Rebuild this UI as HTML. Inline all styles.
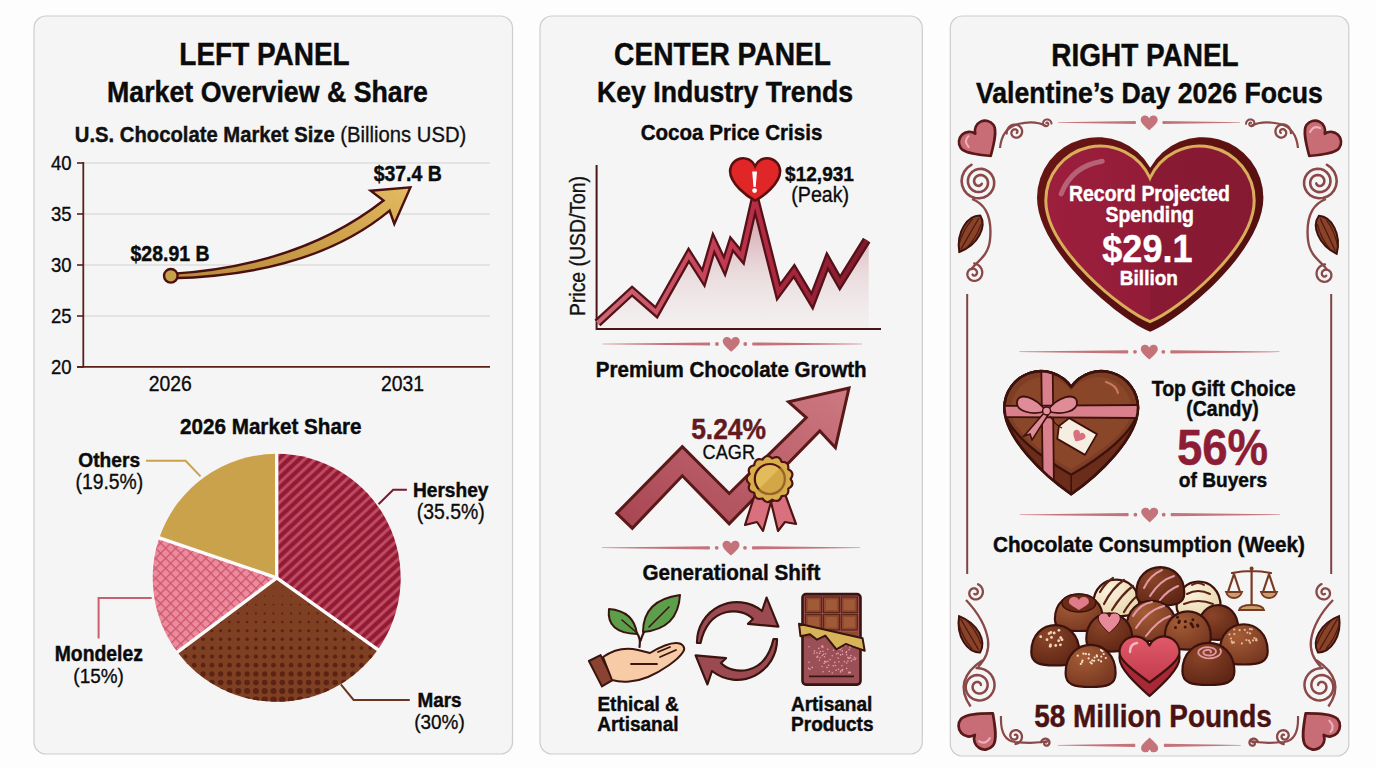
<!DOCTYPE html>
<html><head><meta charset="utf-8"><title>Chocolate Market Infographic</title>
<style>
html,body{margin:0;padding:0;background:#fdfdfd;width:1376px;height:768px;overflow:hidden;}
svg{display:block;}
text{font-family:"Liberation Sans",sans-serif;}
</style></head><body>
<svg width="1376" height="768" viewBox="0 0 1376 768">
<defs>
<pattern id="pHer" patternUnits="userSpaceOnUse" width="7.2" height="7.2" patternTransform="rotate(-43)">
 <rect width="7.2" height="7.2" fill="#911b35"/><rect width="7.2" height="2.9" y="2.2" fill="#c24c63"/></pattern>
<pattern id="pMon" patternUnits="userSpaceOnUse" width="7.1" height="7.1" patternTransform="rotate(45)">
 <rect width="7.1" height="7.1" fill="#ec8b9b"/><rect width="7.1" height="1.3" fill="#cd5670"/><rect width="1.3" height="7.1" fill="#cd5670"/></pattern>
<linearGradient id="gGold" x1="0" y1="1" x2="1" y2="0"><stop offset="0" stop-color="#b8893a"/><stop offset="0.7" stop-color="#d4a850"/><stop offset="1" stop-color="#e2bb62"/></linearGradient>
<linearGradient id="gArea" x1="0" y1="0" x2="0" y2="1"><stop offset="0" stop-color="#b25464" stop-opacity="0.62"/><stop offset="0.6" stop-color="#c88890" stop-opacity="0.22"/><stop offset="1" stop-color="#d8a0a8" stop-opacity="0.06"/></linearGradient>
<linearGradient id="gLine" gradientUnits="userSpaceOnUse" x1="597" y1="0" x2="870" y2="0"><stop offset="0" stop-color="#cc6a76"/><stop offset="0.4" stop-color="#c8435a"/><stop offset="0.6" stop-color="#b42a42"/><stop offset="1" stop-color="#7c1a2c"/></linearGradient>
<linearGradient id="gArrow" x1="0" y1="1" x2="1" y2="0"><stop offset="0" stop-color="#a84452"/><stop offset="1" stop-color="#cd7a82"/></linearGradient>
</defs>
<rect x="34" y="16" width="478.5" height="738" rx="12" fill="#f5f5f5" stroke="#cdcdcd" stroke-width="1.2"/>
<rect x="540" y="16" width="382.3" height="738" rx="12" fill="#f5f5f5" stroke="#cdcdcd" stroke-width="1.2"/>
<rect x="950.3" y="16" width="398.5" height="740" rx="12" fill="#f5f5f5" stroke="#cdcdcd" stroke-width="1.2"/>
<text transform="translate(264.5,65.30) scale(1,1.1)" font-size="27.96" font-weight="bold" text-anchor="middle" fill="#0b0b0b" stroke="#0b0b0b" stroke-width="0.4" >LEFT PANEL</text>
<text transform="translate(267.5,102.30) scale(1,1.1)" font-size="26.74" font-weight="bold" text-anchor="middle" fill="#0b0b0b" stroke="#0b0b0b" stroke-width="0.4" >Market Overview &amp; Share</text>
<text transform="translate(270.6,141.8) scale(1,1.1)" font-size="20.26" text-anchor="middle" fill="#111" stroke="#111" stroke-width="0.3"><tspan font-weight="bold" stroke-width="0.4">U.S. Chocolate Market Size</tspan> (Billions USD)</text>
<line x1="83" y1="163" x2="490" y2="163" stroke="#dcdcdc" stroke-width="1.3"/>
<line x1="77" y1="163" x2="84" y2="163" stroke="#5a2018" stroke-width="1.6"/>
<text transform="translate(71.5,169.80) scale(1,1.1)" font-size="18.54" font-weight="normal" text-anchor="end" fill="#0b0b0b" stroke="#0b0b0b" stroke-width="0.3" >40</text>
<line x1="83" y1="214" x2="490" y2="214" stroke="#dcdcdc" stroke-width="1.3"/>
<line x1="77" y1="214" x2="84" y2="214" stroke="#5a2018" stroke-width="1.6"/>
<text transform="translate(71.5,220.80) scale(1,1.1)" font-size="18.54" font-weight="normal" text-anchor="end" fill="#0b0b0b" stroke="#0b0b0b" stroke-width="0.3" >35</text>
<line x1="83" y1="265" x2="490" y2="265" stroke="#dcdcdc" stroke-width="1.3"/>
<line x1="77" y1="265" x2="84" y2="265" stroke="#5a2018" stroke-width="1.6"/>
<text transform="translate(71.5,271.80) scale(1,1.1)" font-size="18.54" font-weight="normal" text-anchor="end" fill="#0b0b0b" stroke="#0b0b0b" stroke-width="0.3" >30</text>
<line x1="83" y1="316" x2="490" y2="316" stroke="#dcdcdc" stroke-width="1.3"/>
<line x1="77" y1="316" x2="84" y2="316" stroke="#5a2018" stroke-width="1.6"/>
<text transform="translate(71.5,322.80) scale(1,1.1)" font-size="18.54" font-weight="normal" text-anchor="end" fill="#0b0b0b" stroke="#0b0b0b" stroke-width="0.3" >25</text>
<line x1="77" y1="367" x2="84" y2="367" stroke="#5a2018" stroke-width="1.6"/>
<text transform="translate(71.5,373.80) scale(1,1.1)" font-size="18.54" font-weight="normal" text-anchor="end" fill="#0b0b0b" stroke="#0b0b0b" stroke-width="0.3" >20</text>
<line x1="83.3" y1="162" x2="83.3" y2="367.5" stroke="#5a2018" stroke-width="1.8"/>
<line x1="77" y1="366.8" x2="490" y2="366.8" stroke="#5a2018" stroke-width="1.8"/>
<text transform="translate(170.3,391.30) scale(1,1.1)" font-size="19.35" font-weight="normal" text-anchor="middle" fill="#0b0b0b" stroke="#0b0b0b" stroke-width="0.3" >2026</text>
<text transform="translate(402.5,391.30) scale(1,1.1)" font-size="19.35" font-weight="normal" text-anchor="middle" fill="#0b0b0b" stroke="#0b0b0b" stroke-width="0.3" >2031</text>
<path d="M171,273.9 Q300,266 383.5,200.5 L370.7,190.8 L410.4,187.4 L394.3,223.9 L389.6,210.6 Q312,275 171,278.3 Z" fill="url(#gGold)" stroke="#4a1010" stroke-width="2.4" stroke-linejoin="miter"/>
<circle cx="170.8" cy="275.8" r="6.8" fill="#c9a04a" stroke="#4a1010" stroke-width="2.4"/>
<text transform="translate(170,261.00) scale(1,1.1)" font-size="19.45" font-weight="bold" text-anchor="middle" fill="#0b0b0b" stroke="#0b0b0b" stroke-width="0.4" >$28.91 B</text>
<text transform="translate(407.7,181.30) scale(1,1.1)" font-size="19.45" font-weight="bold" text-anchor="middle" fill="#0b0b0b" stroke="#0b0b0b" stroke-width="0.4" >$37.4 B</text>
<path d="M276.7,577.8 L276.70,453.80 A124,124 0 0 1 377.78,649.63 Z" fill="url(#pHer)"/>
<path d="M276.7,577.8 L377.78,649.63 A124,124 0 0 1 177.41,652.08 Z" fill="#7e3f22"/>
<clipPath id="cMars"><path d="M276.7,577.8 L377.78,649.63 A124,124 0 0 1 177.41,652.08 Z"/></clipPath>
<g clip-path="url(#cMars)" fill="#5a2314"><circle cx="185.5" cy="570.2" r="0.50"/><circle cx="194.3" cy="570.2" r="0.50"/><circle cx="203.1" cy="570.2" r="0.50"/><circle cx="211.9" cy="570.2" r="0.50"/><circle cx="220.7" cy="570.2" r="0.50"/><circle cx="229.5" cy="570.2" r="0.50"/><circle cx="238.3" cy="570.2" r="0.50"/><circle cx="247.1" cy="570.2" r="0.50"/><circle cx="255.9" cy="570.2" r="0.50"/><circle cx="264.7" cy="570.2" r="0.50"/><circle cx="273.5" cy="570.2" r="0.50"/><circle cx="282.3" cy="570.2" r="0.50"/><circle cx="291.1" cy="570.2" r="0.50"/><circle cx="299.9" cy="570.2" r="0.50"/><circle cx="308.7" cy="570.2" r="0.50"/><circle cx="317.5" cy="570.2" r="0.50"/><circle cx="326.3" cy="570.2" r="0.50"/><circle cx="335.1" cy="570.2" r="0.50"/><circle cx="343.9" cy="570.2" r="0.50"/><circle cx="352.7" cy="570.2" r="0.50"/><circle cx="361.5" cy="570.2" r="0.50"/><circle cx="370.3" cy="570.2" r="0.50"/><circle cx="379.1" cy="570.2" r="0.50"/><circle cx="185.5" cy="578.8" r="0.50"/><circle cx="194.3" cy="578.8" r="0.50"/><circle cx="203.1" cy="578.8" r="0.50"/><circle cx="211.9" cy="578.8" r="0.50"/><circle cx="220.7" cy="578.8" r="0.50"/><circle cx="229.5" cy="578.8" r="0.50"/><circle cx="238.3" cy="578.8" r="0.50"/><circle cx="247.1" cy="578.8" r="0.50"/><circle cx="255.9" cy="578.8" r="0.50"/><circle cx="264.7" cy="578.8" r="0.50"/><circle cx="273.5" cy="578.8" r="0.50"/><circle cx="282.3" cy="578.8" r="0.50"/><circle cx="291.1" cy="578.8" r="0.50"/><circle cx="299.9" cy="578.8" r="0.50"/><circle cx="308.7" cy="578.8" r="0.50"/><circle cx="317.5" cy="578.8" r="0.50"/><circle cx="326.3" cy="578.8" r="0.50"/><circle cx="335.1" cy="578.8" r="0.50"/><circle cx="343.9" cy="578.8" r="0.50"/><circle cx="352.7" cy="578.8" r="0.50"/><circle cx="361.5" cy="578.8" r="0.50"/><circle cx="370.3" cy="578.8" r="0.50"/><circle cx="379.1" cy="578.8" r="0.50"/><circle cx="185.5" cy="587.5" r="0.50"/><circle cx="194.3" cy="587.5" r="0.50"/><circle cx="203.1" cy="587.5" r="0.50"/><circle cx="211.9" cy="587.5" r="0.50"/><circle cx="220.7" cy="587.5" r="0.50"/><circle cx="229.5" cy="587.5" r="0.50"/><circle cx="238.3" cy="587.5" r="0.50"/><circle cx="247.1" cy="587.5" r="0.50"/><circle cx="255.9" cy="587.5" r="0.50"/><circle cx="264.7" cy="587.5" r="0.50"/><circle cx="273.5" cy="587.5" r="0.50"/><circle cx="282.3" cy="587.5" r="0.50"/><circle cx="291.1" cy="587.5" r="0.50"/><circle cx="299.9" cy="587.5" r="0.50"/><circle cx="308.7" cy="587.5" r="0.50"/><circle cx="317.5" cy="587.5" r="0.50"/><circle cx="326.3" cy="587.5" r="0.50"/><circle cx="335.1" cy="587.5" r="0.50"/><circle cx="343.9" cy="587.5" r="0.50"/><circle cx="352.7" cy="587.5" r="0.50"/><circle cx="361.5" cy="587.5" r="0.50"/><circle cx="370.3" cy="587.5" r="0.50"/><circle cx="379.1" cy="587.5" r="0.50"/><circle cx="185.5" cy="596.1" r="0.65"/><circle cx="194.3" cy="596.1" r="0.65"/><circle cx="203.1" cy="596.1" r="0.65"/><circle cx="211.9" cy="596.1" r="0.65"/><circle cx="220.7" cy="596.1" r="0.65"/><circle cx="229.5" cy="596.1" r="0.65"/><circle cx="238.3" cy="596.1" r="0.65"/><circle cx="247.1" cy="596.1" r="0.65"/><circle cx="255.9" cy="596.1" r="0.65"/><circle cx="264.7" cy="596.1" r="0.65"/><circle cx="273.5" cy="596.1" r="0.65"/><circle cx="282.3" cy="596.1" r="0.65"/><circle cx="291.1" cy="596.1" r="0.65"/><circle cx="299.9" cy="596.1" r="0.65"/><circle cx="308.7" cy="596.1" r="0.65"/><circle cx="317.5" cy="596.1" r="0.65"/><circle cx="326.3" cy="596.1" r="0.65"/><circle cx="335.1" cy="596.1" r="0.65"/><circle cx="343.9" cy="596.1" r="0.65"/><circle cx="352.7" cy="596.1" r="0.65"/><circle cx="361.5" cy="596.1" r="0.65"/><circle cx="370.3" cy="596.1" r="0.65"/><circle cx="379.1" cy="596.1" r="0.65"/><circle cx="185.5" cy="604.7" r="0.86"/><circle cx="194.3" cy="604.7" r="0.86"/><circle cx="203.1" cy="604.7" r="0.86"/><circle cx="211.9" cy="604.7" r="0.86"/><circle cx="220.7" cy="604.7" r="0.86"/><circle cx="229.5" cy="604.7" r="0.86"/><circle cx="238.3" cy="604.7" r="0.86"/><circle cx="247.1" cy="604.7" r="0.86"/><circle cx="255.9" cy="604.7" r="0.86"/><circle cx="264.7" cy="604.7" r="0.86"/><circle cx="273.5" cy="604.7" r="0.86"/><circle cx="282.3" cy="604.7" r="0.86"/><circle cx="291.1" cy="604.7" r="0.86"/><circle cx="299.9" cy="604.7" r="0.86"/><circle cx="308.7" cy="604.7" r="0.86"/><circle cx="317.5" cy="604.7" r="0.86"/><circle cx="326.3" cy="604.7" r="0.86"/><circle cx="335.1" cy="604.7" r="0.86"/><circle cx="343.9" cy="604.7" r="0.86"/><circle cx="352.7" cy="604.7" r="0.86"/><circle cx="361.5" cy="604.7" r="0.86"/><circle cx="370.3" cy="604.7" r="0.86"/><circle cx="379.1" cy="604.7" r="0.86"/><circle cx="185.5" cy="613.4" r="1.07"/><circle cx="194.3" cy="613.4" r="1.07"/><circle cx="203.1" cy="613.4" r="1.07"/><circle cx="211.9" cy="613.4" r="1.07"/><circle cx="220.7" cy="613.4" r="1.07"/><circle cx="229.5" cy="613.4" r="1.07"/><circle cx="238.3" cy="613.4" r="1.07"/><circle cx="247.1" cy="613.4" r="1.07"/><circle cx="255.9" cy="613.4" r="1.07"/><circle cx="264.7" cy="613.4" r="1.07"/><circle cx="273.5" cy="613.4" r="1.07"/><circle cx="282.3" cy="613.4" r="1.07"/><circle cx="291.1" cy="613.4" r="1.07"/><circle cx="299.9" cy="613.4" r="1.07"/><circle cx="308.7" cy="613.4" r="1.07"/><circle cx="317.5" cy="613.4" r="1.07"/><circle cx="326.3" cy="613.4" r="1.07"/><circle cx="335.1" cy="613.4" r="1.07"/><circle cx="343.9" cy="613.4" r="1.07"/><circle cx="352.7" cy="613.4" r="1.07"/><circle cx="361.5" cy="613.4" r="1.07"/><circle cx="370.3" cy="613.4" r="1.07"/><circle cx="379.1" cy="613.4" r="1.07"/><circle cx="185.5" cy="622.0" r="1.29"/><circle cx="194.3" cy="622.0" r="1.29"/><circle cx="203.1" cy="622.0" r="1.29"/><circle cx="211.9" cy="622.0" r="1.29"/><circle cx="220.7" cy="622.0" r="1.29"/><circle cx="229.5" cy="622.0" r="1.29"/><circle cx="238.3" cy="622.0" r="1.29"/><circle cx="247.1" cy="622.0" r="1.29"/><circle cx="255.9" cy="622.0" r="1.29"/><circle cx="264.7" cy="622.0" r="1.29"/><circle cx="273.5" cy="622.0" r="1.29"/><circle cx="282.3" cy="622.0" r="1.29"/><circle cx="291.1" cy="622.0" r="1.29"/><circle cx="299.9" cy="622.0" r="1.29"/><circle cx="308.7" cy="622.0" r="1.29"/><circle cx="317.5" cy="622.0" r="1.29"/><circle cx="326.3" cy="622.0" r="1.29"/><circle cx="335.1" cy="622.0" r="1.29"/><circle cx="343.9" cy="622.0" r="1.29"/><circle cx="352.7" cy="622.0" r="1.29"/><circle cx="361.5" cy="622.0" r="1.29"/><circle cx="370.3" cy="622.0" r="1.29"/><circle cx="379.1" cy="622.0" r="1.29"/><circle cx="185.5" cy="630.7" r="1.50"/><circle cx="194.3" cy="630.7" r="1.50"/><circle cx="203.1" cy="630.7" r="1.50"/><circle cx="211.9" cy="630.7" r="1.50"/><circle cx="220.7" cy="630.7" r="1.50"/><circle cx="229.5" cy="630.7" r="1.50"/><circle cx="238.3" cy="630.7" r="1.50"/><circle cx="247.1" cy="630.7" r="1.50"/><circle cx="255.9" cy="630.7" r="1.50"/><circle cx="264.7" cy="630.7" r="1.50"/><circle cx="273.5" cy="630.7" r="1.50"/><circle cx="282.3" cy="630.7" r="1.50"/><circle cx="291.1" cy="630.7" r="1.50"/><circle cx="299.9" cy="630.7" r="1.50"/><circle cx="308.7" cy="630.7" r="1.50"/><circle cx="317.5" cy="630.7" r="1.50"/><circle cx="326.3" cy="630.7" r="1.50"/><circle cx="335.1" cy="630.7" r="1.50"/><circle cx="343.9" cy="630.7" r="1.50"/><circle cx="352.7" cy="630.7" r="1.50"/><circle cx="361.5" cy="630.7" r="1.50"/><circle cx="370.3" cy="630.7" r="1.50"/><circle cx="379.1" cy="630.7" r="1.50"/><circle cx="185.5" cy="639.3" r="1.71"/><circle cx="194.3" cy="639.3" r="1.71"/><circle cx="203.1" cy="639.3" r="1.71"/><circle cx="211.9" cy="639.3" r="1.71"/><circle cx="220.7" cy="639.3" r="1.71"/><circle cx="229.5" cy="639.3" r="1.71"/><circle cx="238.3" cy="639.3" r="1.71"/><circle cx="247.1" cy="639.3" r="1.71"/><circle cx="255.9" cy="639.3" r="1.71"/><circle cx="264.7" cy="639.3" r="1.71"/><circle cx="273.5" cy="639.3" r="1.71"/><circle cx="282.3" cy="639.3" r="1.71"/><circle cx="291.1" cy="639.3" r="1.71"/><circle cx="299.9" cy="639.3" r="1.71"/><circle cx="308.7" cy="639.3" r="1.71"/><circle cx="317.5" cy="639.3" r="1.71"/><circle cx="326.3" cy="639.3" r="1.71"/><circle cx="335.1" cy="639.3" r="1.71"/><circle cx="343.9" cy="639.3" r="1.71"/><circle cx="352.7" cy="639.3" r="1.71"/><circle cx="361.5" cy="639.3" r="1.71"/><circle cx="370.3" cy="639.3" r="1.71"/><circle cx="379.1" cy="639.3" r="1.71"/><circle cx="185.5" cy="647.9" r="1.92"/><circle cx="194.3" cy="647.9" r="1.92"/><circle cx="203.1" cy="647.9" r="1.92"/><circle cx="211.9" cy="647.9" r="1.92"/><circle cx="220.7" cy="647.9" r="1.92"/><circle cx="229.5" cy="647.9" r="1.92"/><circle cx="238.3" cy="647.9" r="1.92"/><circle cx="247.1" cy="647.9" r="1.92"/><circle cx="255.9" cy="647.9" r="1.92"/><circle cx="264.7" cy="647.9" r="1.92"/><circle cx="273.5" cy="647.9" r="1.92"/><circle cx="282.3" cy="647.9" r="1.92"/><circle cx="291.1" cy="647.9" r="1.92"/><circle cx="299.9" cy="647.9" r="1.92"/><circle cx="308.7" cy="647.9" r="1.92"/><circle cx="317.5" cy="647.9" r="1.92"/><circle cx="326.3" cy="647.9" r="1.92"/><circle cx="335.1" cy="647.9" r="1.92"/><circle cx="343.9" cy="647.9" r="1.92"/><circle cx="352.7" cy="647.9" r="1.92"/><circle cx="361.5" cy="647.9" r="1.92"/><circle cx="370.3" cy="647.9" r="1.92"/><circle cx="379.1" cy="647.9" r="1.92"/><circle cx="185.5" cy="656.6" r="2.13"/><circle cx="194.3" cy="656.6" r="2.13"/><circle cx="203.1" cy="656.6" r="2.13"/><circle cx="211.9" cy="656.6" r="2.13"/><circle cx="220.7" cy="656.6" r="2.13"/><circle cx="229.5" cy="656.6" r="2.13"/><circle cx="238.3" cy="656.6" r="2.13"/><circle cx="247.1" cy="656.6" r="2.13"/><circle cx="255.9" cy="656.6" r="2.13"/><circle cx="264.7" cy="656.6" r="2.13"/><circle cx="273.5" cy="656.6" r="2.13"/><circle cx="282.3" cy="656.6" r="2.13"/><circle cx="291.1" cy="656.6" r="2.13"/><circle cx="299.9" cy="656.6" r="2.13"/><circle cx="308.7" cy="656.6" r="2.13"/><circle cx="317.5" cy="656.6" r="2.13"/><circle cx="326.3" cy="656.6" r="2.13"/><circle cx="335.1" cy="656.6" r="2.13"/><circle cx="343.9" cy="656.6" r="2.13"/><circle cx="352.7" cy="656.6" r="2.13"/><circle cx="361.5" cy="656.6" r="2.13"/><circle cx="370.3" cy="656.6" r="2.13"/><circle cx="379.1" cy="656.6" r="2.13"/><circle cx="185.5" cy="665.2" r="2.35"/><circle cx="194.3" cy="665.2" r="2.35"/><circle cx="203.1" cy="665.2" r="2.35"/><circle cx="211.9" cy="665.2" r="2.35"/><circle cx="220.7" cy="665.2" r="2.35"/><circle cx="229.5" cy="665.2" r="2.35"/><circle cx="238.3" cy="665.2" r="2.35"/><circle cx="247.1" cy="665.2" r="2.35"/><circle cx="255.9" cy="665.2" r="2.35"/><circle cx="264.7" cy="665.2" r="2.35"/><circle cx="273.5" cy="665.2" r="2.35"/><circle cx="282.3" cy="665.2" r="2.35"/><circle cx="291.1" cy="665.2" r="2.35"/><circle cx="299.9" cy="665.2" r="2.35"/><circle cx="308.7" cy="665.2" r="2.35"/><circle cx="317.5" cy="665.2" r="2.35"/><circle cx="326.3" cy="665.2" r="2.35"/><circle cx="335.1" cy="665.2" r="2.35"/><circle cx="343.9" cy="665.2" r="2.35"/><circle cx="352.7" cy="665.2" r="2.35"/><circle cx="361.5" cy="665.2" r="2.35"/><circle cx="370.3" cy="665.2" r="2.35"/><circle cx="379.1" cy="665.2" r="2.35"/><circle cx="185.5" cy="673.9" r="2.56"/><circle cx="194.3" cy="673.9" r="2.56"/><circle cx="203.1" cy="673.9" r="2.56"/><circle cx="211.9" cy="673.9" r="2.56"/><circle cx="220.7" cy="673.9" r="2.56"/><circle cx="229.5" cy="673.9" r="2.56"/><circle cx="238.3" cy="673.9" r="2.56"/><circle cx="247.1" cy="673.9" r="2.56"/><circle cx="255.9" cy="673.9" r="2.56"/><circle cx="264.7" cy="673.9" r="2.56"/><circle cx="273.5" cy="673.9" r="2.56"/><circle cx="282.3" cy="673.9" r="2.56"/><circle cx="291.1" cy="673.9" r="2.56"/><circle cx="299.9" cy="673.9" r="2.56"/><circle cx="308.7" cy="673.9" r="2.56"/><circle cx="317.5" cy="673.9" r="2.56"/><circle cx="326.3" cy="673.9" r="2.56"/><circle cx="335.1" cy="673.9" r="2.56"/><circle cx="343.9" cy="673.9" r="2.56"/><circle cx="352.7" cy="673.9" r="2.56"/><circle cx="361.5" cy="673.9" r="2.56"/><circle cx="370.3" cy="673.9" r="2.56"/><circle cx="379.1" cy="673.9" r="2.56"/><circle cx="185.5" cy="682.5" r="2.77"/><circle cx="194.3" cy="682.5" r="2.77"/><circle cx="203.1" cy="682.5" r="2.77"/><circle cx="211.9" cy="682.5" r="2.77"/><circle cx="220.7" cy="682.5" r="2.77"/><circle cx="229.5" cy="682.5" r="2.77"/><circle cx="238.3" cy="682.5" r="2.77"/><circle cx="247.1" cy="682.5" r="2.77"/><circle cx="255.9" cy="682.5" r="2.77"/><circle cx="264.7" cy="682.5" r="2.77"/><circle cx="273.5" cy="682.5" r="2.77"/><circle cx="282.3" cy="682.5" r="2.77"/><circle cx="291.1" cy="682.5" r="2.77"/><circle cx="299.9" cy="682.5" r="2.77"/><circle cx="308.7" cy="682.5" r="2.77"/><circle cx="317.5" cy="682.5" r="2.77"/><circle cx="326.3" cy="682.5" r="2.77"/><circle cx="335.1" cy="682.5" r="2.77"/><circle cx="343.9" cy="682.5" r="2.77"/><circle cx="352.7" cy="682.5" r="2.77"/><circle cx="361.5" cy="682.5" r="2.77"/><circle cx="370.3" cy="682.5" r="2.77"/><circle cx="379.1" cy="682.5" r="2.77"/><circle cx="185.5" cy="691.1" r="2.98"/><circle cx="194.3" cy="691.1" r="2.98"/><circle cx="203.1" cy="691.1" r="2.98"/><circle cx="211.9" cy="691.1" r="2.98"/><circle cx="220.7" cy="691.1" r="2.98"/><circle cx="229.5" cy="691.1" r="2.98"/><circle cx="238.3" cy="691.1" r="2.98"/><circle cx="247.1" cy="691.1" r="2.98"/><circle cx="255.9" cy="691.1" r="2.98"/><circle cx="264.7" cy="691.1" r="2.98"/><circle cx="273.5" cy="691.1" r="2.98"/><circle cx="282.3" cy="691.1" r="2.98"/><circle cx="291.1" cy="691.1" r="2.98"/><circle cx="299.9" cy="691.1" r="2.98"/><circle cx="308.7" cy="691.1" r="2.98"/><circle cx="317.5" cy="691.1" r="2.98"/><circle cx="326.3" cy="691.1" r="2.98"/><circle cx="335.1" cy="691.1" r="2.98"/><circle cx="343.9" cy="691.1" r="2.98"/><circle cx="352.7" cy="691.1" r="2.98"/><circle cx="361.5" cy="691.1" r="2.98"/><circle cx="370.3" cy="691.1" r="2.98"/><circle cx="379.1" cy="691.1" r="2.98"/><circle cx="185.5" cy="699.8" r="3.19"/><circle cx="194.3" cy="699.8" r="3.19"/><circle cx="203.1" cy="699.8" r="3.19"/><circle cx="211.9" cy="699.8" r="3.19"/><circle cx="220.7" cy="699.8" r="3.19"/><circle cx="229.5" cy="699.8" r="3.19"/><circle cx="238.3" cy="699.8" r="3.19"/><circle cx="247.1" cy="699.8" r="3.19"/><circle cx="255.9" cy="699.8" r="3.19"/><circle cx="264.7" cy="699.8" r="3.19"/><circle cx="273.5" cy="699.8" r="3.19"/><circle cx="282.3" cy="699.8" r="3.19"/><circle cx="291.1" cy="699.8" r="3.19"/><circle cx="299.9" cy="699.8" r="3.19"/><circle cx="308.7" cy="699.8" r="3.19"/><circle cx="317.5" cy="699.8" r="3.19"/><circle cx="326.3" cy="699.8" r="3.19"/><circle cx="335.1" cy="699.8" r="3.19"/><circle cx="343.9" cy="699.8" r="3.19"/><circle cx="352.7" cy="699.8" r="3.19"/><circle cx="361.5" cy="699.8" r="3.19"/><circle cx="370.3" cy="699.8" r="3.19"/><circle cx="379.1" cy="699.8" r="3.19"/></g>
<path d="M276.7,577.8 L177.41,652.08 A124,124 0 0 1 159.32,537.84 Z" fill="url(#pMon)"/>
<path d="M276.7,577.8 L159.32,537.84 A124,124 0 0 1 276.70,453.80 Z" fill="#c9a24b"/>
<line x1="276.7" y1="577.8" x2="276.70" y2="453.80" stroke="#fafafa" stroke-width="3.4" stroke-linecap="round"/>
<line x1="276.7" y1="577.8" x2="377.78" y2="649.63" stroke="#fafafa" stroke-width="3.4" stroke-linecap="round"/>
<line x1="276.7" y1="577.8" x2="177.41" y2="652.08" stroke="#fafafa" stroke-width="3.4" stroke-linecap="round"/>
<line x1="276.7" y1="577.8" x2="159.32" y2="537.84" stroke="#fafafa" stroke-width="3.4" stroke-linecap="round"/>
<text transform="translate(270.7,434.30) scale(1,1.1)" font-size="20.67" font-weight="bold" text-anchor="middle" fill="#0b0b0b" stroke="#0b0b0b" stroke-width="0.4" >2026 Market Share</text>
<polyline points="146,460.7 185.6,460.7 200.5,476.4" fill="none" stroke="#c9a24b" stroke-width="2"/>
<polyline points="406.9,489.7 393.2,489.7 378.5,504.2" fill="none" stroke="#7a1a2a" stroke-width="2"/>
<polyline points="98.6,638.6 98.6,598 151.7,598" fill="none" stroke="#c9606e" stroke-width="2"/>
<polyline points="340.8,684.3 353.6,700 409.8,700" fill="none" stroke="#6b3520" stroke-width="2"/>
<text transform="translate(109.2,466.60) scale(1,1.1)" font-size="19.15" font-weight="bold" text-anchor="middle" fill="#0b0b0b" stroke="#0b0b0b" stroke-width="0.4" >Others</text>
<text transform="translate(109.4,489.30) scale(1,1.1)" font-size="19.35" font-weight="normal" text-anchor="middle" fill="#0b0b0b" stroke="#0b0b0b" stroke-width="0.3" >(19.5%)</text>
<text transform="translate(450.7,496.80) scale(1,1.1)" font-size="19.15" font-weight="bold" text-anchor="middle" fill="#0b0b0b" stroke="#0b0b0b" stroke-width="0.4" >Hershey</text>
<text transform="translate(450.7,519.30) scale(1,1.1)" font-size="19.45" font-weight="normal" text-anchor="middle" fill="#0b0b0b" stroke="#0b0b0b" stroke-width="0.3" >(35.5%)</text>
<text transform="translate(98.8,661.30) scale(1,1.1)" font-size="19.35" font-weight="bold" text-anchor="middle" fill="#0b0b0b" stroke="#0b0b0b" stroke-width="0.4" >Mondelez</text>
<text transform="translate(98.6,683.30) scale(1,1.1)" font-size="18.94" font-weight="normal" text-anchor="middle" fill="#0b0b0b" stroke="#0b0b0b" stroke-width="0.3" >(15%)</text>
<text transform="translate(439.5,706.70) scale(1,1.1)" font-size="18.94" font-weight="bold" text-anchor="middle" fill="#0b0b0b" stroke="#0b0b0b" stroke-width="0.4" >Mars</text>
<text transform="translate(439.5,728.80) scale(1,1.1)" font-size="18.94" font-weight="normal" text-anchor="middle" fill="#0b0b0b" stroke="#0b0b0b" stroke-width="0.3" >(30%)</text>
<text transform="translate(722.5,65.30) scale(1,1.1)" font-size="28.16" font-weight="bold" text-anchor="middle" fill="#0b0b0b" stroke="#0b0b0b" stroke-width="0.4" >CENTER PANEL</text>
<text transform="translate(725,102.30) scale(1,1.1)" font-size="26.64" font-weight="bold" text-anchor="middle" fill="#0b0b0b" stroke="#0b0b0b" stroke-width="0.4" >Key Industry Trends</text>
<text transform="translate(731.5,140.30) scale(1,1.1)" font-size="20.56" font-weight="bold" text-anchor="middle" fill="#0b0b0b" stroke="#0b0b0b" stroke-width="0.4" >Cocoa Price Crisis</text>
<polygon points="597.5,323 632.1,291.1 656.3,312.3 688.7,255 703.4,278 713.6,243 724.5,266 731.6,244 742,256.5 755,199 778.5,292 794.1,271 812.1,301 827.4,261 839.9,283 866.7,240.2 868.7,242 868.7,328.5 597.5,328.5" fill="url(#gArea)"/>
<line x1="596.6" y1="165" x2="596.6" y2="330" stroke="#4a1515" stroke-width="2"/>
<line x1="596" y1="329" x2="881" y2="329" stroke="#4a1515" stroke-width="2"/>
<polyline points="597.5,323 632.1,291.1 656.3,312.3 688.7,255 703.4,278 713.6,243 724.5,266 731.6,244 742,256.5 755,199 778.5,292 794.1,271 812.1,301 827.4,261 839.9,283 866.7,240.2" fill="none" stroke="#541218" stroke-width="8.8" stroke-linejoin="miter" stroke-miterlimit="5"/>
<polyline points="597.5,323 632.1,291.1 656.3,312.3 688.7,255 703.4,278 713.6,243 724.5,266 731.6,244 742,256.5 755,199 778.5,292 794.1,271 812.1,301 827.4,261 839.9,283 866.7,240.2" fill="none" stroke="url(#gLine)" stroke-width="4.2" stroke-linejoin="miter" stroke-miterlimit="5"/>
<path d="M755.10,166.00 A13.05,13.05 0 0 0 730.10,171.25 C730.10,183.58 747.10,196.36 755.10,200.60 C763.10,196.36 780.10,183.58 780.10,171.25 A13.05,13.05 0 0 0 755.10,166.00 Z" fill="#e02626" stroke="#5a1010" stroke-width="2.6"/>
<path d="M752.2,171.5 L757,171.5 L755.7,187 L753.5,187 Z" fill="#fff"/><circle cx="754.6" cy="190.6" r="2.4" fill="#fff"/>
<text transform="translate(819.5,181.30) scale(1,1.1)" font-size="19.04" font-weight="bold" text-anchor="middle" fill="#0b0b0b" stroke="#0b0b0b" stroke-width="0.4" >$12,931</text>
<text transform="translate(820.2,202.30) scale(1,1.1)" font-size="19.65" font-weight="normal" text-anchor="middle" fill="#0b0b0b" stroke="#0b0b0b" stroke-width="0.3" >(Peak)</text>
<text transform="translate(585,246) rotate(-90) scale(1,1.1)" font-size="19.4" text-anchor="middle" fill="#111" stroke="#111" stroke-width="0.3">Price (USD/Ton)</text>
<path d="M602.6,343.7 L709.75,342.4 Q710.95,344 709.75,345.6 L602.6,344.3 Z" fill="#c4737a"/>
<path d="M862,343.7 L752.75,342.4 Q751.55,344 752.75,345.6 L862,344.3 Z" fill="#c4737a"/>
<circle cx="716.95" cy="344" r="1.9" fill="#c4737a"/><circle cx="745.25" cy="344" r="1.9" fill="#c4737a"/>
<path d="M731.25,339.80 A4.40,4.40 0 0 0 722.75,341.40 C722.75,344.52 728.19,348.84 731.25,351.80 C734.31,348.84 739.75,344.52 739.75,341.40 A4.40,4.40 0 0 0 731.25,339.80 Z" fill="#c4737a"/>
<text transform="translate(731.2,376.90) scale(1,1.1)" font-size="20.56" font-weight="bold" text-anchor="middle" fill="#0b0b0b" stroke="#0b0b0b" stroke-width="0.4" >Premium Chocolate Growth</text>
<path d="M616.7,513.3 L682.3,446.7 L729.2,493.5 L806.3,417.5 L788.5,401.9 L849,388 L835.4,447.7 L819.8,431 L729.2,523.8 L682.3,475.8 L632.3,528.3 Z" fill="url(#gArrow)" stroke="#5a1818" stroke-width="3" stroke-linejoin="miter"/>
<text transform="translate(728.6,438.60) scale(1,1.1)" font-size="26.44" font-weight="bold" text-anchor="middle" fill="#621a1e" stroke="#621a1e" stroke-width="0.4" >5.24%</text>
<text transform="translate(728.8,459.10) scale(1,1.1)" font-size="18.13" font-weight="normal" text-anchor="middle" fill="#0b0b0b" stroke="#0b0b0b" stroke-width="0.3" >CAGR</text>
<path d="M755,494 L771,502 L763,531 L757,522 L745,525 Z" fill="#d9707e" stroke="#4e1414" stroke-width="2.2" stroke-linejoin="round"/>
<path d="M771,502 L785,494 L796,524 L785,522 L778,531 Z" fill="#d9707e" stroke="#4e1414" stroke-width="2.2" stroke-linejoin="round"/>
<path d="M790.60,479.00 Q795.24,485.27 788.22,488.67 Q789.41,496.37 781.62,496.12 Q779.09,503.50 772.31,499.65 Q766.64,505.01 762.42,498.45 Q754.92,500.56 754.23,492.79 Q746.60,491.18 749.60,483.98 Q743.60,479.00 749.60,474.02 Q746.60,466.82 754.23,465.21 Q754.92,457.44 762.42,459.55 Q766.64,452.99 772.31,458.35 Q779.09,454.50 781.62,461.88 Q789.41,461.63 788.22,469.33 Q795.24,472.73 790.60,479.00 Z" fill="#d8ae4a" stroke="#4e1414" stroke-width="2.2" stroke-linejoin="round"/>
<circle cx="769.8" cy="479" r="15" fill="#e2bb5a" stroke="#4e1414" stroke-width="2.2"/>
<path d="M758,490 L781,467 A15.5,15.5 0 0 1 781,491 A15.5,15.5 0 0 1 758,490 Z" fill="#c99a38" opacity="0.6"/>
<path d="M601.9,547.5 L709.5,546.1999999999999 Q710.7,547.8 709.5,549.4 L601.9,548.0999999999999 Z" fill="#c4737a"/>
<path d="M860,547.5 L752.5,546.1999999999999 Q751.3,547.8 752.5,549.4 L860,548.0999999999999 Z" fill="#c4737a"/>
<circle cx="716.7" cy="547.8" r="1.9" fill="#c4737a"/><circle cx="745" cy="547.8" r="1.9" fill="#c4737a"/>
<path d="M731.00,543.60 A4.40,4.40 0 0 0 722.50,545.20 C722.50,548.32 727.94,552.64 731.00,555.60 C734.06,552.64 739.50,548.32 739.50,545.20 A4.40,4.40 0 0 0 731.00,543.60 Z" fill="#c4737a"/>
<text transform="translate(731.4,580.30) scale(1,1.1)" font-size="20.67" font-weight="bold" text-anchor="middle" fill="#0b0b0b" stroke="#0b0b0b" stroke-width="0.4" >Generational Shift</text>
<polygon points="588.9,661 600.6,655.1 613,679.8 601.9,686.4" fill="#8a4232" stroke="#3a1510" stroke-width="2" stroke-linejoin="round"/>
<path d="M603,657 C613,650 626,647 638,650 L650,653 C660,647 668,643 676,643 C683,643 686,648 683,652 C678,660 662,671 648,677 C636,682 622,683 612,680 Z" fill="#f6cba6" stroke="#3a1510" stroke-width="2" stroke-linejoin="round"/>
<path d="M631,664 L657,664 M658,652 L670,647 M660,657 L676,650" fill="none" stroke="#3a1510" stroke-width="1.8" stroke-linecap="round"/>
<path d="M639.5,647 Q641,639 637,633 M640.5,641 Q642,636 644,632" fill="none" stroke="#3a1510" stroke-width="2.2" stroke-linecap="round"/>
<path d="M637,634 Q606,633 609,609 Q634,611 637,634 Z" fill="#5d9e4b" stroke="#3a1510" stroke-width="2" stroke-linejoin="round"/>
<path d="M643,632 Q643,600 680,595 Q678,629 643,632 Z" fill="#5d9e4b" stroke="#3a1510" stroke-width="2" stroke-linejoin="round"/>
<path d="M622,620 L636,632 M649,627 L669,607" fill="none" stroke="#3a1510" stroke-width="1.6" stroke-linecap="round"/>
<path d="M697,643 A40,40 0 0 1 762,611 L766.6,597.6 L778.4,626.6 L748,623.8 L753,619 C742,607 709,605 700.5,643 Z" fill="#9c4a52" stroke="#3a1510" stroke-width="2.2" stroke-linejoin="round"/>
<path d="M697,643 A40,40 0 0 1 762,611 L766.6,597.6 L778.4,626.6 L748,623.8 L753,619 C742,607 709,605 700.5,643 Z" fill="#9c4a52" stroke="#3a1510" stroke-width="2.2" stroke-linejoin="round" transform="rotate(180 737 641)"/>
<rect x="802.5" y="594.1" width="58" height="90.5" rx="3.5" fill="#9b5058" stroke="#3a1510" stroke-width="2.6"/>
<rect x="805.5" y="597.0" width="16" height="15.5" fill="#8d4a2e" stroke="#5a2416" stroke-width="1.2"/>
<rect x="808.0" y="599.5" width="11" height="10.5" fill="#a05a38"/>
<rect x="823.4" y="597.0" width="16" height="15.5" fill="#8d4a2e" stroke="#5a2416" stroke-width="1.2"/>
<rect x="825.9" y="599.5" width="11" height="10.5" fill="#a05a38"/>
<rect x="841.3" y="597.0" width="16" height="15.5" fill="#8d4a2e" stroke="#5a2416" stroke-width="1.2"/>
<rect x="843.8" y="599.5" width="11" height="10.5" fill="#a05a38"/>
<rect x="805.5" y="614.5" width="16" height="15.5" fill="#8d4a2e" stroke="#5a2416" stroke-width="1.2"/>
<rect x="808.0" y="617.0" width="11" height="10.5" fill="#a05a38"/>
<rect x="823.4" y="614.5" width="16" height="15.5" fill="#8d4a2e" stroke="#5a2416" stroke-width="1.2"/>
<rect x="825.9" y="617.0" width="11" height="10.5" fill="#a05a38"/>
<rect x="841.3" y="614.5" width="16" height="15.5" fill="#8d4a2e" stroke="#5a2416" stroke-width="1.2"/>
<rect x="843.8" y="617.0" width="11" height="10.5" fill="#a05a38"/>
<rect x="805" y="632" width="53" height="6" fill="#8d4a2e"/>
<g fill="#e6a0a8"><circle cx="819.4" cy="660.2" r="0.8"/><circle cx="825.8" cy="661.9" r="0.8"/><circle cx="838.0" cy="646.8" r="0.8"/><circle cx="808.6" cy="668.4" r="0.8"/><circle cx="820.4" cy="651.6" r="0.8"/><circle cx="855.8" cy="658.2" r="0.8"/><circle cx="848.2" cy="658.3" r="0.8"/><circle cx="838.7" cy="649.2" r="0.8"/><circle cx="838.5" cy="669.3" r="0.8"/><circle cx="833.1" cy="665.8" r="0.8"/><circle cx="840.2" cy="646.8" r="0.8"/><circle cx="844.4" cy="661.6" r="0.8"/><circle cx="822.5" cy="645.9" r="0.8"/><circle cx="849.5" cy="658.2" r="0.8"/><circle cx="842.5" cy="669.6" r="0.8"/><circle cx="842.3" cy="670.8" r="0.8"/><circle cx="827.0" cy="667.4" r="0.8"/><circle cx="829.3" cy="671.2" r="0.8"/><circle cx="850.2" cy="647.7" r="0.8"/><circle cx="814.5" cy="651.1" r="0.8"/><circle cx="854.3" cy="657.2" r="0.8"/><circle cx="838.1" cy="653.4" r="0.8"/><circle cx="832.3" cy="655.8" r="0.8"/><circle cx="824.8" cy="661.4" r="0.8"/><circle cx="836.0" cy="670.3" r="0.8"/><circle cx="840.7" cy="671.0" r="0.8"/><circle cx="849.1" cy="672.7" r="0.8"/><circle cx="840.2" cy="649.6" r="0.8"/><circle cx="849.3" cy="672.0" r="0.8"/><circle cx="851.4" cy="660.9" r="0.8"/><circle cx="842.3" cy="650.9" r="0.8"/><circle cx="847.9" cy="661.1" r="0.8"/><circle cx="821.7" cy="646.8" r="0.8"/><circle cx="849.0" cy="672.7" r="0.8"/><circle cx="812.2" cy="667.4" r="0.8"/><circle cx="827.7" cy="649.2" r="0.8"/><circle cx="822.1" cy="666.5" r="0.8"/><circle cx="849.9" cy="646.2" r="0.8"/><circle cx="837.5" cy="646.3" r="0.8"/><circle cx="842.5" cy="654.3" r="0.8"/><circle cx="850.3" cy="672.5" r="0.8"/><circle cx="832.3" cy="673.0" r="0.8"/><circle cx="822.9" cy="647.2" r="0.8"/><circle cx="836.8" cy="645.9" r="0.8"/><circle cx="817.5" cy="656.4" r="0.8"/><circle cx="837.3" cy="649.4" r="0.8"/><circle cx="810.0" cy="669.3" r="0.8"/><circle cx="823.1" cy="671.8" r="0.8"/><circle cx="851.0" cy="655.6" r="0.8"/><circle cx="830.1" cy="659.6" r="0.8"/><circle cx="838.9" cy="661.7" r="0.8"/><circle cx="834.8" cy="662.4" r="0.8"/><circle cx="853.1" cy="659.2" r="0.8"/><circle cx="828.7" cy="665.2" r="0.8"/><circle cx="819.4" cy="653.4" r="0.8"/><circle cx="854.9" cy="659.6" r="0.8"/><circle cx="834.3" cy="645.3" r="0.8"/><circle cx="827.9" cy="661.2" r="0.8"/><circle cx="809.0" cy="662.2" r="0.8"/><circle cx="838.3" cy="646.7" r="0.8"/><circle cx="838.1" cy="658.1" r="0.8"/><circle cx="840.6" cy="654.9" r="0.8"/><circle cx="841.9" cy="665.7" r="0.8"/><circle cx="809.1" cy="646.7" r="0.8"/><circle cx="840.4" cy="672.0" r="0.8"/><circle cx="820.1" cy="657.8" r="0.8"/><circle cx="836.4" cy="654.0" r="0.8"/><circle cx="825.5" cy="653.8" r="0.8"/><circle cx="825.7" cy="661.7" r="0.8"/><circle cx="822.4" cy="655.6" r="0.8"/><circle cx="845.1" cy="645.8" r="0.8"/><circle cx="835.3" cy="665.6" r="0.8"/><circle cx="822.9" cy="651.2" r="0.8"/><circle cx="846.6" cy="651.7" r="0.8"/><circle cx="817.0" cy="657.2" r="0.8"/><circle cx="841.5" cy="647.9" r="0.8"/><circle cx="823.5" cy="654.3" r="0.8"/><circle cx="848.0" cy="657.3" r="0.8"/><circle cx="849.1" cy="649.7" r="0.8"/><circle cx="824.2" cy="663.2" r="0.8"/><circle cx="850.5" cy="657.6" r="0.8"/><circle cx="818.8" cy="648.4" r="0.8"/><circle cx="833.4" cy="650.3" r="0.8"/><circle cx="846.7" cy="668.5" r="0.8"/><circle cx="816.8" cy="652.8" r="0.8"/><circle cx="846.7" cy="663.0" r="0.8"/><circle cx="846.7" cy="654.7" r="0.8"/><circle cx="814.2" cy="653.2" r="0.8"/><circle cx="846.1" cy="652.6" r="0.8"/><circle cx="824.6" cy="656.7" r="0.8"/></g>
<path d="M799,623.8 L862.6,638.3 L864.7,650.8 L853,646.6 L846,643.9 L836.4,649.4 L825.3,635.6 L817,639.7 L810,634.2 L800.5,636.3 Z" fill="#d8b458" stroke="#3a1510" stroke-width="2" stroke-linejoin="round"/>
<line x1="809" y1="676.3" x2="854" y2="676.3" stroke="#3a1510" stroke-width="1.8"/>
<text transform="translate(638.1,710.80) scale(1,1.1)" font-size="19.04" font-weight="bold" text-anchor="middle" fill="#0b0b0b" stroke="#0b0b0b" stroke-width="0.4" >Ethical &amp;</text>
<text transform="translate(637.9,731.30) scale(1,1.1)" font-size="19.04" font-weight="bold" text-anchor="middle" fill="#0b0b0b" stroke="#0b0b0b" stroke-width="0.4" >Artisanal</text>
<text transform="translate(831.6,710.80) scale(1,1.1)" font-size="19.04" font-weight="bold" text-anchor="middle" fill="#0b0b0b" stroke="#0b0b0b" stroke-width="0.4" >Artisanal</text>
<text transform="translate(832.3,731.30) scale(1,1.1)" font-size="19.04" font-weight="bold" text-anchor="middle" fill="#0b0b0b" stroke="#0b0b0b" stroke-width="0.4" >Products</text>
<text transform="translate(1145,65.60) scale(1,1.1)" font-size="27.96" font-weight="bold" text-anchor="middle" fill="#0b0b0b" stroke="#0b0b0b" stroke-width="0.4" >RIGHT PANEL</text>
<text transform="translate(1149.4,102.70) scale(1,1.1)" font-size="26.64" font-weight="bold" text-anchor="middle" fill="#0b0b0b" stroke="#0b0b0b" stroke-width="0.4" >Valentine’s Day 2026 Focus</text>
<path d="M1058,122.2 L1135.5,120.9 Q1136.7,122.5 1135.5,124.1 L1058,122.8 Z" fill="#c4737a"/>
<path d="M1240,122.2 L1162.9,120.9 Q1161.7,122.5 1162.9,124.1 L1240,122.8 Z" fill="#c4737a"/>
<path d="M1149.20,118.30 A4.40,4.40 0 0 0 1140.70,119.90 C1140.70,123.02 1146.14,127.34 1149.20,130.30 C1152.26,127.34 1157.70,123.02 1157.70,119.90 A4.40,4.40 0 0 0 1149.20,118.30 Z" fill="#c4737a"/>
<defs><linearGradient id="gBand" x1="0" y1="0" x2="1" y2="1"><stop offset="0" stop-color="#6a1515"/><stop offset="1" stop-color="#4e0e0e"/></linearGradient>
<linearGradient id="gCrim" x1="0" y1="0" x2="1" y2="0"><stop offset="0" stop-color="#9c1f3d"/><stop offset="0.5" stop-color="#931c38"/><stop offset="0.5" stop-color="#8a1a34"/><stop offset="1" stop-color="#861932"/></linearGradient></defs>
<path d="M1150.20,167.70 A60.60,60.60 0 0 0 1037.00,197.80 C1037.00,251.40 1120.77,320.12 1150.20,331.80 C1179.63,320.12 1263.40,251.40 1263.40,197.80 A60.60,60.60 0 0 0 1150.20,167.70 Z" fill="url(#gBand)"/>
<path d="M1150.00,178.00 A54.54,54.54 0 0 0 1045.80,200.54 C1045.80,248.96 1122.91,311.06 1150.00,321.60 C1177.09,311.06 1254.20,248.96 1254.20,200.54 A54.54,54.54 0 0 0 1150.00,178.00 Z" fill="url(#gCrim)" stroke="#d9ad5a" stroke-width="3" stroke-linejoin="miter" stroke-miterlimit="8"/>
<path d="M1061.2,193.8 Q1072,166 1102.2,161.2" fill="none" stroke="#ffffff" stroke-opacity="0.3" stroke-width="5" stroke-linecap="round"/>
<text transform="translate(1149.5,200.50) scale(1,1.1)" font-size="19.45" font-weight="bold" text-anchor="middle" fill="#fff" stroke="#fff" stroke-width="0.4" >Record Projected</text>
<text transform="translate(1149.7,222.00) scale(1,1.1)" font-size="19.45" font-weight="bold" text-anchor="middle" fill="#fff" stroke="#fff" stroke-width="0.4" >Spending</text>
<text transform="translate(1147.4,262.00) scale(1,1.1)" font-size="36.06" font-weight="bold" text-anchor="middle" fill="#fff" stroke="#fff" stroke-width="0.4" >$29.1</text>
<text transform="translate(1148.9,285.00) scale(1,1.1)" font-size="19.04" font-weight="bold" text-anchor="middle" fill="#fff" stroke="#fff" stroke-width="0.4" >Billion</text>
<line x1="967.2" y1="294" x2="967.2" y2="574" stroke="#7e4444" stroke-width="2"/>
<line x1="1331.2" y1="294" x2="1331.2" y2="574" stroke="#7e4444" stroke-width="2"/>
<g transform="translate(981,142) rotate(-35) scale(1.0)"><path d="M0.00,-10.00 A10.27,10.27 0 0 0 -20.00,-6.73 C-20.00,0.39 -8.00,10.20 0.00,17.00 C8.00,10.20 20.00,0.39 20.00,-6.73 A10.27,10.27 0 0 0 0.00,-10.00 Z" fill="#c86c76" stroke="#5a1818" stroke-width="2.6" stroke-linejoin="round"/><path d="M-13,-3 Q-14,-11 -7,-12" fill="none" stroke="#f0b0b8" stroke-width="2" stroke-linecap="round"/></g>
<polyline points="971.47,164.78 967.35,167.75 964.21,171.65 962.26,176.18 961.60,181.00 962.25,185.75 964.11,190.08 967.01,193.71 970.72,196.38 974.95,197.94 979.36,198.31 983.64,197.50 987.48,195.60 990.62,192.80 992.86,189.31 994.06,185.43 994.18,181.44 993.24,177.63 991.36,174.27 988.69,171.59 985.47,169.76 981.94,168.88 978.38,168.97 975.04,169.99 972.16,171.83 969.93,174.32 968.48,177.25 967.88,180.40 968.14,183.52 969.20,186.38 970.95,188.80 973.23,190.62 975.85,191.72 978.59,192.08 981.26,191.69 983.66,190.63 985.63,189.00 987.05,186.97 987.85,184.70 987.99,182.36 987.52,180.15 986.50,178.21 985.04,176.66 983.29,175.61 981.38,175.09 979.47,175.11 977.71,175.63 976.22,176.57 975.08,177.82 974.37,179.28 974.09,180.80 974.23,182.27 974.75,183.58 975.57,184.64 976.59,185.39 977.71,185.80 978.83,185.87 979.86,185.64 980.72,185.16 981.36,184.51 981.75,183.75" fill="none" stroke="#8a4848" stroke-width="2.6" stroke-linecap="round" stroke-linejoin="round"/>
<path d="M972,199 C988,205 992,220 990,240 C988,258 975,262 971,270" fill="none" stroke="#8a4848" stroke-width="2.4"/>
<g transform="translate(969.8,233.8) rotate(30) scale(1.0)"><path d="M0,-21 C11,-15 13,5 0,21 C-13,5 -11,-15 0,-21 Z" fill="#8a4228" stroke="#3d120c" stroke-width="2"/><path d="M0,-18 L0,18 M-5,-14 Q-8,0 -4,15 M5,-14 Q8,0 4,15" fill="none" stroke="#4a1a10" stroke-width="1.2"/></g>
<polyline points="974.21,263.43 975.83,263.82 977.34,264.47 978.69,265.36 979.87,266.44 980.83,267.69 981.55,269.06 982.03,270.51 982.25,271.99 982.22,273.47 981.95,274.90 981.45,276.24 980.74,277.46 979.85,278.52 978.82,279.40 977.67,280.08 976.44,280.55 975.17,280.80 973.91,280.84 972.68,280.66 971.52,280.29 970.46,279.73 969.53,279.02 968.74,278.18 968.13,277.24 967.69,276.23 967.44,275.18 967.37,274.13 967.47,273.10 967.75,272.13 968.17,271.24 968.73,270.46 969.39,269.80 970.14,269.27 970.94,268.89 971.78,268.66 972.62,268.58 973.44,268.64 974.21,268.84 974.92,269.16 975.54,269.58 976.06,270.08 976.47,270.65 976.77,271.26 976.95,271.90 977.02,272.53 976.97,273.14 976.83,273.71 976.59,274.22 976.28,274.67 975.92,275.03 975.51,275.32 975.08,275.51 974.64,275.62 974.21,275.64 973.81,275.59 973.44,275.47 973.12,275.29 972.87,275.07 972.67,274.82 972.53,274.55" fill="none" stroke="#8a4848" stroke-width="2.3" stroke-linecap="round" stroke-linejoin="round"/>
<path d="M1000,148 Q1002,128 1018,124 Q1035,120 1046,126" fill="none" stroke="#8a4848" stroke-width="2.2"/>
<polyline points="1006.69,133.57 1006.73,132.07 1007.02,130.62 1007.54,129.26 1008.27,128.02 1009.18,126.94 1010.25,126.04 1011.43,125.34 1012.70,124.87 1014.01,124.61 1015.32,124.58 1016.59,124.77 1017.79,125.16 1018.90,125.74 1019.87,126.48 1020.69,127.37 1021.34,128.36 1021.80,129.42 1022.07,130.53 1022.14,131.65 1022.04,132.74 1021.75,133.77 1021.30,134.73 1020.71,135.58 1019.99,136.30 1019.19,136.87 1018.31,137.30 1017.40,137.56 1016.48,137.66 1015.57,137.60 1014.71,137.40 1013.92,137.06 1013.21,136.60 1012.60,136.04 1012.12,135.40 1011.76,134.71 1011.53,133.99 1011.43,133.26 1011.45,132.54 1011.60,131.86 1011.85,131.23 1012.19,130.68 1012.62,130.20 1013.10,129.83 1013.62,129.55 1014.16,129.37 1014.71,129.29 1015.24,129.31 1015.74,129.42 1016.19,129.61 1016.58,129.86 1016.90,130.17 1017.16,130.51 1017.34,130.88 1017.44,131.25 1017.47,131.62 1017.43,131.96 1017.33,132.27 1017.19,132.54 1017.00,132.76 1016.79,132.93" fill="none" stroke="#8a4848" stroke-width="2.3" stroke-linecap="round" stroke-linejoin="round"/>
<polyline points="1051.50,123.60 1051.38,122.93 1051.18,122.29 1050.89,121.70 1050.53,121.16 1050.11,120.68 1049.63,120.26 1049.11,119.93 1048.55,119.67 1047.98,119.50 1047.39,119.40 1046.81,119.39 1046.24,119.46 1045.69,119.60 1045.18,119.81 1044.71,120.09 1044.29,120.42 1043.93,120.81 1043.63,121.23 1043.39,121.67 1043.23,122.14 1043.13,122.62 1043.10,123.10 1043.13,123.56 1043.23,124.01 1043.38,124.44 1043.59,124.82 1043.84,125.17 1044.14,125.47 1044.46,125.73 1044.81,125.93 1045.17,126.07 1045.55,126.16 1045.92,126.20 1046.28,126.18 1046.63,126.12 1046.96,126.01 1047.26,125.85 1047.53,125.67 1047.76,125.45 1047.95,125.21 1048.10,124.95 1048.21,124.69 1048.28,124.41 1048.30,124.14 1048.29,123.88 1048.24,123.64 1048.16,123.41 1048.05,123.20 1047.92,123.02 1047.76,122.87 1047.60,122.75 1047.42,122.66 1047.24,122.60 1047.07,122.57 1046.90,122.57 1046.74,122.59 1046.59,122.64 1046.46,122.71 1046.35,122.79 1046.27,122.89" fill="none" stroke="#8a4848" stroke-width="2" stroke-linecap="round" stroke-linejoin="round"/>
<g transform="translate(1319,142) rotate(35) scale(1.0)"><path d="M0.00,-10.00 A10.27,10.27 0 0 0 -20.00,-6.73 C-20.00,0.39 -8.00,10.20 0.00,17.00 C8.00,10.20 20.00,0.39 20.00,-6.73 A10.27,10.27 0 0 0 0.00,-10.00 Z" fill="#c86c76" stroke="#5a1818" stroke-width="2.6" stroke-linejoin="round"/><path d="M-13,-3 Q-14,-11 -7,-12" fill="none" stroke="#f0b0b8" stroke-width="2" stroke-linecap="round"/></g>
<polyline points="1326.89,164.81 1331.04,167.82 1334.18,171.78 1336.10,176.38 1336.71,181.25 1335.99,186.03 1334.03,190.37 1331.03,193.97 1327.22,196.59 1322.92,198.06 1318.46,198.30 1314.16,197.35 1310.35,195.32 1307.28,192.37 1305.16,188.77 1304.10,184.80 1304.16,180.77 1305.28,176.97 1307.35,173.68 1310.17,171.12 1313.52,169.45 1317.13,168.76 1320.71,169.06 1324.01,170.30 1326.79,172.34 1328.88,175.00 1330.13,178.05 1330.51,181.26 1330.01,184.38 1328.72,187.19 1326.76,189.48 1324.32,191.11 1321.59,192.00 1318.80,192.12 1316.15,191.49 1313.84,190.19 1312.01,188.37 1310.79,186.19 1310.22,183.82 1310.31,181.47 1311.02,179.29 1312.26,177.45 1313.89,176.07 1315.78,175.22 1317.75,174.92 1319.66,175.17 1321.36,175.90 1322.74,177.02 1323.72,178.43 1324.25,179.97 1324.32,181.54 1323.98,182.99 1323.28,184.22 1322.32,185.17 1321.19,185.77 1320.01,186.02 1318.88,185.93 1317.89,185.54 1317.11,184.93 1316.57,184.18 1316.30,183.37" fill="none" stroke="#8a4848" stroke-width="2.6" stroke-linecap="round" stroke-linejoin="round"/>
<path d="M1326,199 C1310,205 1306,220 1308,240 C1310,258 1323,262 1327,270" fill="none" stroke="#8a4848" stroke-width="2.4"/>
<g transform="translate(1327.8,234.8) rotate(-25) scale(1.0)"><path d="M0,-21 C11,-15 13,5 0,21 C-13,5 -11,-15 0,-21 Z" fill="#8a4228" stroke="#3d120c" stroke-width="2"/><path d="M0,-18 L0,18 M-5,-14 Q-8,0 -4,15 M5,-14 Q8,0 4,15" fill="none" stroke="#4a1a10" stroke-width="1.2"/></g>
<polyline points="1325.01,264.40 1323.37,264.73 1321.84,265.32 1320.44,266.15 1319.23,267.18 1318.22,268.39 1317.43,269.72 1316.90,271.15 1316.61,272.63 1316.58,274.11 1316.79,275.55 1317.24,276.91 1317.90,278.15 1318.74,279.25 1319.74,280.17 1320.86,280.90 1322.07,281.42 1323.32,281.73 1324.58,281.82 1325.82,281.69 1326.99,281.36 1328.08,280.85 1329.04,280.18 1329.85,279.37 1330.51,278.46 1330.98,277.46 1331.28,276.43 1331.40,275.38 1331.33,274.35 1331.10,273.37 1330.71,272.46 1330.19,271.66 1329.56,270.97 1328.83,270.41 1328.04,270.00 1327.22,269.74 1326.38,269.62 1325.56,269.65 1324.78,269.81 1324.06,270.10 1323.42,270.49 1322.88,270.98 1322.44,271.53 1322.12,272.13 1321.91,272.75 1321.82,273.38 1321.84,273.99 1321.96,274.57 1322.18,275.09 1322.47,275.55 1322.82,275.93 1323.21,276.23 1323.64,276.44 1324.07,276.57 1324.50,276.61 1324.90,276.57 1325.27,276.47 1325.60,276.30 1325.87,276.09 1326.07,275.85 1326.22,275.59" fill="none" stroke="#8a4848" stroke-width="2.3" stroke-linecap="round" stroke-linejoin="round"/>
<path d="M1298,148 Q1296,128 1280,124 Q1262,120 1251,126" fill="none" stroke="#8a4848" stroke-width="2.2"/>
<polyline points="1290.96,133.10 1290.85,131.60 1290.50,130.16 1289.93,128.82 1289.15,127.62 1288.19,126.58 1287.08,125.72 1285.87,125.08 1284.59,124.65 1283.27,124.45 1281.96,124.48 1280.70,124.71 1279.51,125.16 1278.43,125.78 1277.49,126.57 1276.71,127.48 1276.11,128.50 1275.69,129.58 1275.46,130.70 1275.43,131.82 1275.59,132.90 1275.92,133.93 1276.41,134.86 1277.03,135.69 1277.78,136.38 1278.61,136.92 1279.50,137.30 1280.42,137.53 1281.34,137.59 1282.25,137.50 1283.10,137.26 1283.88,136.88 1284.57,136.40 1285.15,135.81 1285.61,135.16 1285.94,134.45 1286.14,133.72 1286.21,132.98 1286.15,132.27 1285.98,131.59 1285.70,130.98 1285.33,130.44 1284.89,129.98 1284.40,129.62 1283.86,129.37 1283.31,129.21 1282.77,129.16 1282.24,129.20 1281.75,129.33 1281.30,129.54 1280.92,129.81 1280.61,130.13 1280.37,130.48 1280.21,130.85 1280.12,131.23 1280.11,131.59 1280.16,131.94 1280.27,132.24 1280.42,132.51 1280.62,132.72 1280.83,132.88" fill="none" stroke="#8a4848" stroke-width="2.3" stroke-linecap="round" stroke-linejoin="round"/>
<polyline points="1246.00,123.81 1246.09,123.13 1246.27,122.49 1246.53,121.88 1246.87,121.33 1247.27,120.83 1247.73,120.40 1248.24,120.04 1248.78,119.76 1249.35,119.56 1249.93,119.44 1250.52,119.41 1251.09,119.45 1251.64,119.57 1252.16,119.76 1252.64,120.02 1253.07,120.34 1253.45,120.70 1253.77,121.11 1254.02,121.55 1254.21,122.01 1254.33,122.48 1254.38,122.96 1254.37,123.42 1254.29,123.88 1254.15,124.31 1253.96,124.70 1253.72,125.06 1253.44,125.37 1253.13,125.64 1252.79,125.85 1252.43,126.01 1252.06,126.12 1251.69,126.17 1251.32,126.17 1250.97,126.12 1250.64,126.02 1250.34,125.88 1250.06,125.71 1249.82,125.50 1249.62,125.27 1249.46,125.02 1249.34,124.76 1249.26,124.49 1249.22,124.22 1249.22,123.96 1249.26,123.71 1249.33,123.48 1249.44,123.27 1249.56,123.08 1249.71,122.92 1249.87,122.80 1250.04,122.70 1250.22,122.63 1250.39,122.59 1250.56,122.59 1250.72,122.60 1250.87,122.65 1251.00,122.71 1251.11,122.79 1251.20,122.88" fill="none" stroke="#8a4848" stroke-width="2" stroke-linecap="round" stroke-linejoin="round"/>
<path d="M1019.3,351.5 L1127.8,350.2 Q1129.0,351.8 1127.8,353.40000000000003 L1019.3,352.1 Z" fill="#c4737a"/>
<path d="M1279.4,351.5 L1170.8,350.2 Q1169.6,351.8 1170.8,353.40000000000003 L1279.4,352.1 Z" fill="#c4737a"/>
<circle cx="1135.0" cy="351.8" r="1.9" fill="#c4737a"/><circle cx="1163.3" cy="351.8" r="1.9" fill="#c4737a"/>
<path d="M1149.30,347.60 A4.40,4.40 0 0 0 1140.80,349.20 C1140.80,352.32 1146.24,356.64 1149.30,359.60 C1152.36,356.64 1157.80,352.32 1157.80,349.20 A4.40,4.40 0 0 0 1149.30,347.60 Z" fill="#c4737a"/>
<path d="M1071.20,387.00 A36.66,36.66 0 0 0 1004.40,407.86 C1004.40,438.08 1044.48,475.75 1071.20,494.20 C1097.92,475.75 1138.00,438.08 1138.00,407.86 A36.66,36.66 0 0 0 1071.20,387.00 Z" fill="#6b2d1a" stroke="#3d120c" stroke-width="2.6" stroke-linejoin="round"/>
<path d="M1071.20,387.00 A36.66,36.66 0 0 0 1004.40,407.86 C1004.40,431.29 1044.48,459.26 1071.20,474.80 C1097.92,459.26 1138.00,431.29 1138.00,407.86 A36.66,36.66 0 0 0 1071.20,387.00 Z" fill="#7e3e25" stroke="#3d120c" stroke-width="2.4" stroke-linejoin="round"/>
<path d="M1071.20,391.00 A33.34,33.34 0 0 0 1010.70,410.34 C1010.70,430.87 1047.00,455.20 1071.20,469.00 C1095.40,455.20 1131.70,430.87 1131.70,410.34 A33.34,33.34 0 0 0 1071.20,391.00 Z" fill="#8a4629" stroke="none"/>
<line x1="1071.2" y1="475" x2="1071.2" y2="494" stroke="#3d120c" stroke-width="1.6"/>
<path d="M1106,382 Q1116,385 1118,393" fill="none" stroke="#c77a5a" stroke-width="2.2" stroke-linecap="round"/>
<clipPath id="cBox"><path d="M1071.20,387.00 A36.66,36.66 0 0 0 1004.40,407.86 C1004.40,438.08 1044.48,475.75 1071.20,494.20 C1097.92,475.75 1138.00,438.08 1138.00,407.86 A36.66,36.66 0 0 0 1071.20,387.00 Z"/></clipPath>
<g clip-path="url(#cBox)"><path d="M1041.3,368 L1052.7,368 L1054,496 L1043,496 Z" fill="#d9808c" stroke="#3d120c" stroke-width="1.8" stroke-linejoin="round"/><path d="M1000,406 L1140,405 L1140,418 L1000,417 Z" fill="#d9808c" stroke="#3d120c" stroke-width="1.8" stroke-linejoin="round"/></g>
<path d="M1071.20,387.00 A36.66,36.66 0 0 0 1004.40,407.86 C1004.40,438.08 1044.48,475.75 1071.20,494.20 C1097.92,475.75 1138.00,438.08 1138.00,407.86 A36.66,36.66 0 0 0 1071.20,387.00 Z" fill="none" stroke="#3d120c" stroke-width="2.6" stroke-linejoin="round"/>
<path d="M1046,411 C1035,396 1018,392 1017,402 C1016,411 1032,416 1046,411 Z" fill="#e08c98" stroke="#3d120c" stroke-width="1.8"/>
<path d="M1047,411 C1058,396 1076,392 1077,402 C1078,411 1062,416 1047,411 Z" fill="#e08c98" stroke="#3d120c" stroke-width="1.8"/>
<path d="M1044,413 L1024,436 L1030,434 L1032,440 L1048,415 Z" fill="#e08c98" stroke="#3d120c" stroke-width="1.6"/>
<circle cx="1046.6" cy="411" r="4" fill="#e890a0" stroke="#3d120c" stroke-width="1.5"/>
<g transform="translate(1078,437) rotate(30)"><path d="M-17,-12 L15,-12 L15,12 L-17,12 L-22,0 Z" fill="#f6eee0" stroke="#3d120c" stroke-width="1.8" stroke-linejoin="round"/><path d="M0.00,-3.60 A3.31,3.31 0 0 0 -6.50,-2.69 C-6.50,-0.38 -2.60,2.80 0.00,5.00 C2.60,2.80 6.50,-0.38 6.50,-2.69 A3.31,3.31 0 0 0 0.00,-3.60 Z" fill="#d8707e"/></g>
<path d="M1050,416 Q1055,425 1062,428" fill="none" stroke="#3d120c" stroke-width="1.3"/>
<text transform="translate(1223.7,395.90) scale(1,1.1)" font-size="19.55" font-weight="bold" text-anchor="middle" fill="#0b0b0b" stroke="#0b0b0b" stroke-width="0.4" >Top Gift Choice</text>
<text transform="translate(1222.5,415.80) scale(1,1.1)" font-size="19.45" font-weight="bold" text-anchor="middle" fill="#0b0b0b" stroke="#0b0b0b" stroke-width="0.4" >(Candy)</text>
<text transform="translate(1222.5,465.00) scale(1,1.1)" font-size="45.58" font-weight="bold" text-anchor="middle" fill="#8c1d35" stroke="#8c1d35" stroke-width="0.4" >56%</text>
<text transform="translate(1222.9,487.30) scale(1,1.1)" font-size="19.15" font-weight="bold" text-anchor="middle" fill="#0b0b0b" stroke="#0b0b0b" stroke-width="0.4" >of Buyers</text>
<path d="M1019.8,514.4000000000001 L1128.2,513.1 Q1129.4,514.7 1128.2,516.3000000000001 L1019.8,515.0 Z" fill="#c4737a"/>
<path d="M1279.8,514.4000000000001 L1171.2,513.1 Q1170.0,514.7 1171.2,516.3000000000001 L1279.8,515.0 Z" fill="#c4737a"/>
<circle cx="1135.4" cy="514.7" r="1.9" fill="#c4737a"/><circle cx="1163.7" cy="514.7" r="1.9" fill="#c4737a"/>
<path d="M1149.70,510.50 A4.40,4.40 0 0 0 1141.20,512.10 C1141.20,515.22 1146.64,519.54 1149.70,522.50 C1152.76,519.54 1158.20,515.22 1158.20,512.10 A4.40,4.40 0 0 0 1149.70,510.50 Z" fill="#c4737a"/>
<text transform="translate(1149,552.00) scale(1,1.1)" font-size="20.67" font-weight="bold" text-anchor="middle" fill="#0b0b0b" stroke="#0b0b0b" stroke-width="0.4" >Chocolate Consumption (Week)</text>
<text transform="translate(1153,727.20) scale(1,1.1)" font-size="27.96" font-weight="bold" text-anchor="middle" fill="#4a1212" stroke="#4a1212" stroke-width="0.4" >58 Million Pounds</text>
<g transform="translate(981.5,727) rotate(-140) scale(1.04)"><path d="M0.00,-10.00 A10.27,10.27 0 0 0 -20.00,-6.73 C-20.00,0.39 -8.00,10.20 0.00,17.00 C8.00,10.20 20.00,0.39 20.00,-6.73 A10.27,10.27 0 0 0 0.00,-10.00 Z" fill="#c86c76" stroke="#5a1818" stroke-width="2.6" stroke-linejoin="round"/><path d="M-13,-3 Q-14,-11 -7,-12" fill="none" stroke="#f0b0b8" stroke-width="2" stroke-linecap="round"/></g>
<g transform="translate(1317,727) rotate(140) scale(1.04)"><path d="M0.00,-10.00 A10.27,10.27 0 0 0 -20.00,-6.73 C-20.00,0.39 -8.00,10.20 0.00,17.00 C8.00,10.20 20.00,0.39 20.00,-6.73 A10.27,10.27 0 0 0 0.00,-10.00 Z" fill="#c86c76" stroke="#5a1818" stroke-width="2.6" stroke-linejoin="round"/><path d="M-13,-3 Q-14,-11 -7,-12" fill="none" stroke="#f0b0b8" stroke-width="2" stroke-linecap="round"/></g>
<polyline points="978.06,584.21 979.27,584.94 980.33,585.83 981.23,586.86 981.94,588.01 982.45,589.23 982.76,590.50 982.87,591.79 982.77,593.05 982.47,594.27 982.00,595.40 981.36,596.43 980.59,597.33 979.69,598.08 978.70,598.67 977.66,599.09 976.57,599.33 975.49,599.40 974.42,599.29 973.40,599.03 972.46,598.61 971.62,598.06 970.88,597.40 970.27,596.64 969.80,595.81 969.48,594.94 969.30,594.05 969.27,593.16 969.38,592.29 969.62,591.48 969.98,590.72 970.44,590.06 970.99,589.49 971.61,589.02 972.28,588.68 972.97,588.45 973.68,588.34 974.37,588.34 975.04,588.45 975.65,588.66 976.21,588.97 976.70,589.34 977.11,589.78 977.42,590.26 977.65,590.77 977.79,591.29 977.83,591.80 977.79,592.30 977.68,592.76 977.49,593.18 977.25,593.55 976.96,593.86 976.64,594.10 976.29,594.27 975.94,594.38 975.60,594.42 975.27,594.40 974.97,594.32 974.71,594.20 974.49,594.04 974.31,593.86" fill="none" stroke="#8a4848" stroke-width="2.3" stroke-linecap="round" stroke-linejoin="round"/>
<polyline points="1321.59,584.08 1320.35,584.76 1319.25,585.60 1318.32,586.60 1317.56,587.71 1316.99,588.92 1316.63,590.17 1316.47,591.45 1316.52,592.72 1316.76,593.94 1317.19,595.10 1317.78,596.15 1318.52,597.08 1319.39,597.87 1320.35,598.50 1321.38,598.96 1322.45,599.25 1323.53,599.36 1324.60,599.30 1325.63,599.08 1326.59,598.70 1327.45,598.19 1328.22,597.56 1328.85,596.83 1329.36,596.02 1329.72,595.16 1329.93,594.28 1330.00,593.39 1329.93,592.52 1329.72,591.69 1329.40,590.93 1328.96,590.24 1328.44,589.65 1327.84,589.16 1327.18,588.79 1326.50,588.53 1325.80,588.39 1325.11,588.36 1324.44,588.45 1323.81,588.63 1323.24,588.91 1322.74,589.26 1322.31,589.68 1321.98,590.15 1321.73,590.65 1321.57,591.16 1321.50,591.68 1321.52,592.17 1321.62,592.64 1321.79,593.07 1322.02,593.45 1322.29,593.77 1322.60,594.02 1322.94,594.21 1323.28,594.33 1323.62,594.38 1323.95,594.38 1324.25,594.32 1324.52,594.20 1324.75,594.06 1324.94,593.88" fill="none" stroke="#8a4848" stroke-width="2.3" stroke-linecap="round" stroke-linejoin="round"/>
<g transform="translate(969.6,634.3) rotate(150) scale(1.0)"><path d="M0,-21 C11,-15 13,5 0,21 C-13,5 -11,-15 0,-21 Z" fill="#8a4228" stroke="#3d120c" stroke-width="2"/><path d="M0,-18 L0,18 M-5,-14 Q-8,0 -4,15 M5,-14 Q8,0 4,15" fill="none" stroke="#4a1a10" stroke-width="1.2"/></g>
<g transform="translate(1328.5,634.3) rotate(-150) scale(1.0)"><path d="M0,-21 C11,-15 13,5 0,21 C-13,5 -11,-15 0,-21 Z" fill="#8a4228" stroke="#3d120c" stroke-width="2"/><path d="M0,-18 L0,18 M-5,-14 Q-8,0 -4,15 M5,-14 Q8,0 4,15" fill="none" stroke="#4a1a10" stroke-width="1.2"/></g>
<path d="M966,600 Q985,620 988,640 Q990,655 978,667" fill="none" stroke="#8a4848" stroke-width="2.3"/>
<path d="M1333,600 Q1314,620 1311,640 Q1309,655 1321,667" fill="none" stroke="#8a4848" stroke-width="2.3"/>
<polyline points="976.62,668.09 980.72,668.41 984.59,669.64 988.02,671.70 990.84,674.44 992.93,677.72 994.19,681.33 994.59,685.07 994.12,688.75 992.84,692.17 990.85,695.15 988.27,697.56 985.25,699.28 981.97,700.24 978.62,700.43 975.38,699.85 972.40,698.56 969.85,696.66 967.84,694.27 966.47,691.54 965.77,688.61 965.76,685.67 966.42,682.85 967.68,680.32 969.45,678.19 971.62,676.56 974.05,675.49 976.61,675.03 979.14,675.17 981.52,675.86 983.62,677.07 985.35,678.68 986.63,680.60 987.40,682.71 987.66,684.88 987.42,687.00 986.71,688.95 985.61,690.63 984.18,691.97 982.53,692.91 980.77,693.43 978.99,693.52 977.30,693.21 975.77,692.53 974.50,691.55 973.53,690.34 972.89,688.99 972.60,687.59 972.64,686.21 973.00,684.94 973.62,683.84 974.44,682.96 975.40,682.33 976.43,681.97 977.46,681.88 978.42,682.03 979.27,682.38 979.96,682.90 980.46,683.54 980.76,684.23 980.87,684.92" fill="none" stroke="#8a4848" stroke-width="2.5" stroke-linecap="round" stroke-linejoin="round"/>
<path d="M983,660 Q952,680 970.6,706.5" fill="none" stroke="#8a4848" stroke-width="2.5"/>
<polyline points="1322.48,668.10 1318.38,668.39 1314.50,669.61 1311.06,671.64 1308.22,674.38 1306.12,677.64 1304.83,681.24 1304.42,684.98 1304.86,688.66 1306.12,692.08 1308.10,695.08 1310.67,697.50 1313.68,699.24 1316.95,700.22 1320.30,700.43 1323.55,699.87 1326.53,698.60 1329.09,696.71 1331.11,694.33 1332.50,691.60 1333.22,688.68 1333.24,685.74 1332.60,682.92 1331.35,680.38 1329.59,678.24 1327.43,676.60 1325.01,675.52 1322.45,675.04 1319.92,675.16 1317.54,675.85 1315.43,677.04 1313.69,678.64 1312.40,680.55 1311.62,682.66 1311.34,684.83 1311.57,686.95 1312.27,688.90 1313.37,690.59 1314.79,691.94 1316.43,692.89 1318.19,693.42 1319.97,693.52 1321.66,693.21 1323.19,692.54 1324.47,691.57 1325.45,690.37 1326.09,689.02 1326.39,687.62 1326.35,686.24 1326.01,684.97 1325.40,683.86 1324.58,682.98 1323.62,682.35 1322.59,681.98 1321.57,681.88 1320.60,682.03 1319.75,682.38 1319.06,682.90 1318.55,683.53 1318.25,684.21 1318.13,684.90" fill="none" stroke="#8a4848" stroke-width="2.5" stroke-linecap="round" stroke-linejoin="round"/>
<path d="M1316,660 Q1347,680 1328.4,706.5" fill="none" stroke="#8a4848" stroke-width="2.5"/>
<path d="M1001,716 Q1000,740 1015,742 Q1035,744 1049,741" fill="none" stroke="#8a4848" stroke-width="2.2"/>
<polyline points="1015.57,743.98 1016.78,743.68 1017.92,743.20 1018.95,742.56 1019.86,741.78 1020.61,740.87 1021.21,739.87 1021.64,738.81 1021.88,737.71 1021.95,736.60 1021.85,735.51 1021.58,734.47 1021.15,733.51 1020.59,732.63 1019.91,731.87 1019.13,731.24 1018.27,730.75 1017.37,730.41 1016.44,730.22 1015.50,730.18 1014.59,730.28 1013.73,730.53 1012.93,730.90 1012.22,731.38 1011.60,731.96 1011.10,732.61 1010.71,733.33 1010.45,734.07 1010.32,734.84 1010.30,735.59 1010.41,736.33 1010.63,737.01 1010.95,737.64 1011.35,738.20 1011.83,738.67 1012.36,739.05 1012.93,739.33 1013.52,739.51 1014.11,739.58 1014.69,739.57 1015.25,739.46 1015.76,739.27 1016.22,739.00 1016.61,738.68 1016.94,738.31 1017.19,737.90 1017.36,737.47 1017.46,737.04 1017.48,736.62 1017.44,736.21 1017.33,735.83 1017.16,735.50 1016.95,735.21 1016.71,734.97 1016.44,734.79 1016.16,734.67 1015.87,734.60 1015.60,734.58 1015.34,734.62 1015.11,734.69 1014.92,734.80" fill="none" stroke="#8a4848" stroke-width="2.3" stroke-linecap="round" stroke-linejoin="round"/>
<path d="M1298,716 Q1299,740 1284,742 Q1264,744 1250,741" fill="none" stroke="#8a4848" stroke-width="2.2"/>
<polyline points="1283.77,744.00 1282.54,743.75 1281.38,743.32 1280.32,742.72 1279.39,741.97 1278.59,741.10 1277.95,740.13 1277.49,739.08 1277.19,737.99 1277.08,736.89 1277.14,735.80 1277.36,734.75 1277.75,733.76 1278.27,732.87 1278.92,732.08 1279.68,731.42 1280.51,730.89 1281.40,730.51 1282.32,730.28 1283.25,730.20 1284.17,730.27 1285.04,730.48 1285.85,730.81 1286.59,731.27 1287.23,731.82 1287.76,732.45 1288.17,733.15 1288.47,733.89 1288.63,734.64 1288.67,735.40 1288.60,736.13 1288.41,736.83 1288.12,737.47 1287.74,738.04 1287.28,738.53 1286.77,738.93 1286.21,739.24 1285.63,739.44 1285.04,739.54 1284.46,739.55 1283.90,739.47 1283.38,739.30 1282.91,739.05 1282.50,738.74 1282.16,738.39 1281.89,737.99 1281.70,737.57 1281.58,737.14 1281.54,736.72 1281.57,736.31 1281.67,735.93 1281.82,735.59 1282.02,735.29 1282.25,735.04 1282.51,734.85 1282.79,734.71 1283.07,734.63 1283.34,734.61 1283.60,734.63 1283.83,734.70 1284.04,734.80" fill="none" stroke="#8a4848" stroke-width="2.3" stroke-linecap="round" stroke-linejoin="round"/>
<path d="M1057.6,745.0 L1134.8999999999999,743.6999999999999 Q1136.1,745.3 1134.8999999999999,746.9 L1057.6,745.5999999999999 Z" fill="#c4737a"/>
<path d="M1240.8,745.0 L1164.3,743.6999999999999 Q1163.1,745.3 1164.3,746.9 L1240.8,745.5999999999999 Z" fill="#c4737a"/>
<path d="M1149.60,741.10 A4.40,4.40 0 0 0 1141.10,742.70 C1141.10,745.82 1146.54,750.14 1149.60,753.10 C1152.66,750.14 1158.10,745.82 1158.10,742.70 A4.40,4.40 0 0 0 1149.60,741.10 Z" fill="#c4737a" transform="rotate(180 1149.6 745.3)"/>
<polyline points="1041.06,742.21 1041.28,741.57 1041.59,740.97 1041.96,740.43 1042.40,739.95 1042.90,739.54 1043.43,739.21 1044.00,738.96 1044.59,738.80 1045.19,738.71 1045.78,738.71 1046.36,738.79 1046.91,738.95 1047.43,739.18 1047.90,739.47 1048.32,739.82 1048.68,740.21 1048.98,740.65 1049.21,741.11 1049.37,741.59 1049.46,742.08 1049.49,742.56 1049.44,743.04 1049.33,743.50 1049.17,743.92 1048.95,744.32 1048.68,744.67 1048.38,744.97 1048.04,745.22 1047.68,745.42 1047.30,745.56 1046.92,745.65 1046.54,745.68 1046.16,745.66 1045.81,745.58 1045.47,745.47 1045.17,745.30 1044.89,745.11 1044.66,744.88 1044.47,744.63 1044.31,744.36 1044.21,744.08 1044.14,743.80 1044.12,743.52 1044.13,743.25 1044.19,743.00 1044.27,742.76 1044.39,742.55 1044.53,742.36 1044.69,742.21 1044.87,742.08 1045.05,741.99 1045.24,741.93 1045.42,741.90 1045.60,741.89 1045.77,741.92 1045.93,741.97 1046.06,742.04 1046.18,742.13 1046.27,742.23 1046.34,742.33" fill="none" stroke="#8a4848" stroke-width="2.3" stroke-linecap="round" stroke-linejoin="round"/>
<polyline points="1257.90,742.01 1257.65,741.37 1257.33,740.79 1256.93,740.26 1256.47,739.80 1255.96,739.42 1255.41,739.11 1254.83,738.88 1254.23,738.74 1253.63,738.68 1253.04,738.71 1252.47,738.81 1251.92,738.99 1251.42,739.24 1250.96,739.55 1250.55,739.92 1250.21,740.33 1249.93,740.77 1249.72,741.24 1249.57,741.73 1249.50,742.22 1249.50,742.71 1249.56,743.18 1249.69,743.64 1249.87,744.06 1250.11,744.44 1250.39,744.78 1250.71,745.07 1251.06,745.31 1251.42,745.49 1251.81,745.62 1252.19,745.69 1252.58,745.70 1252.95,745.66 1253.30,745.57 1253.63,745.44 1253.93,745.27 1254.19,745.06 1254.42,744.82 1254.60,744.56 1254.74,744.29 1254.84,744.01 1254.89,743.72 1254.90,743.44 1254.88,743.18 1254.81,742.92 1254.71,742.69 1254.59,742.48 1254.44,742.30 1254.27,742.15 1254.09,742.03 1253.91,741.95 1253.72,741.90 1253.53,741.87 1253.35,741.88 1253.18,741.91 1253.03,741.97 1252.90,742.04 1252.79,742.13 1252.70,742.24 1252.63,742.35" fill="none" stroke="#8a4848" stroke-width="2.3" stroke-linecap="round" stroke-linejoin="round"/>
<defs>
<radialGradient id="gDark" cx="0.35" cy="0.3" r="0.8"><stop offset="0" stop-color="#8a4528"/><stop offset="1" stop-color="#5c2414"/></radialGradient>
<radialGradient id="gMilk" cx="0.35" cy="0.3" r="0.8"><stop offset="0" stop-color="#a55d36"/><stop offset="1" stop-color="#743520"/></radialGradient>
<radialGradient id="gWhite" cx="0.35" cy="0.3" r="0.8"><stop offset="0" stop-color="#fbf3df"/><stop offset="1" stop-color="#e6d3a8"/></radialGradient>
<linearGradient id="gRedH" x1="0" y1="0" x2="0" y2="1"><stop offset="0" stop-color="#e05a6a"/><stop offset="1" stop-color="#c23a4c"/></linearGradient>
</defs>
<path d="M1093.2,604.3 C1093.2,571.5 1139.2,571.5 1139.2,604.3 C1139.2,614.3 1131.4,616.3 1116.2,616.3 C1101.0,616.3 1093.2,614.3 1093.2,604.3 Z" fill="url(#gWhite)" stroke="#3d120c" stroke-width="2.2" stroke-linejoin="round"/>
<path d="M1100,592 Q1106,582 1113,578 M1104,604 Q1112,588 1124,580 M1112,610 Q1122,594 1133,586 M1124,612 Q1130,602 1137,596" fill="none" stroke="#5a2414" stroke-width="2.2" stroke-linecap="round"/>
<path d="M1176.6,606.3 C1176.6,573.5 1220.6,573.5 1220.6,606.3 C1220.6,616.3 1213.1,618.3 1198.6,618.3 C1184.1,618.3 1176.6,616.3 1176.6,606.3 Z" fill="url(#gWhite)" stroke="#3d120c" stroke-width="2.2" stroke-linejoin="round"/>
<path d="M1184,604 Q1198,598 1213,604 M1187,594 Q1198,588 1210,594 M1192,585 Q1198,581 1204,585" fill="none" stroke="#5a2414" stroke-width="2" stroke-linecap="round"/>
<path d="M1136.3,592.9 C1136.3,558.5 1184.3,558.5 1184.3,592.9 C1184.3,603.4 1176.1,605.5 1160.3,605.5 C1144.5,605.5 1136.3,603.4 1136.3,592.9 Z" fill="url(#gDark)" stroke="#3d120c" stroke-width="2.2" stroke-linejoin="round"/>
<path d="M1144,588 Q1150,575 1162,570 M1150,596 Q1160,580 1174,576 M1160,600 Q1168,590 1178,586" fill="none" stroke="#e39aa4" stroke-width="2" stroke-linecap="round"/>
<path d="M1054.9,619.0 C1054.9,586.2 1102.9,586.2 1102.9,619.0 C1102.9,629.0 1094.7,631.0 1078.9,631.0 C1063.1,631.0 1054.9,629.0 1054.9,619.0 Z" fill="url(#gMilk)" stroke="#3d120c" stroke-width="2.2" stroke-linejoin="round"/>
<ellipse cx="1078.9" cy="603" rx="17" ry="9" fill="#6b2a18" stroke="#3d120c" stroke-width="1.5"/>
<path d="M1078.90,600.00 A5.25,5.25 0 0 0 1068.90,602.25 C1068.90,604.58 1074.90,607.40 1078.90,610.00 C1082.90,607.40 1088.90,604.58 1088.90,602.25 A5.25,5.25 0 0 0 1078.90,600.00 Z" fill="#e07b8a"/>
<path d="M1198.2,628.5 C1198.2,597.3 1238.2,597.3 1238.2,628.5 C1238.2,638.0 1231.4,639.9 1218.2,639.9 C1205.0,639.9 1198.2,638.0 1198.2,628.5 Z" fill="url(#gDark)" stroke="#3d120c" stroke-width="2.2" stroke-linejoin="round"/>
<path d="M1126.5,627.8 C1126.5,591.7 1176.5,591.7 1176.5,627.8 C1176.5,638.8 1168.0,641.0 1151.5,641.0 C1135.0,641.0 1126.5,638.8 1126.5,627.8 Z" fill="url(#gMilk)" stroke="#3d120c" stroke-width="2.2" stroke-linejoin="round"/>
<path d="M1133,616 Q1140,604 1152,602 M1136,628 Q1148,610 1164,606 M1146,636 Q1158,620 1170,616" fill="none" stroke="#e39aa4" stroke-width="2" stroke-linecap="round"/>
<path d="M1086.3,639.1 C1086.3,604.7 1132.3,604.7 1132.3,639.1 C1132.3,649.6 1124.5,651.7 1109.3,651.7 C1094.1,651.7 1086.3,649.6 1086.3,639.1 Z" fill="url(#gDark)" stroke="#3d120c" stroke-width="2.2" stroke-linejoin="round"/>
<path d="M1109.30,617.00 A5.62,5.62 0 0 0 1098.30,618.62 C1098.30,622.93 1104.90,629.00 1109.30,633.00 C1113.70,629.00 1120.30,622.93 1120.30,618.62 A5.62,5.62 0 0 0 1109.30,617.00 Z" fill="#e8899a" stroke="#3d120c" stroke-width="1"/>
<path d="M1164.8,637.1 C1164.8,602.7 1210.8,602.7 1210.8,637.1 C1210.8,647.6 1203.0,649.7 1187.8,649.7 C1172.6,649.7 1164.8,647.6 1164.8,637.1 Z" fill="url(#gMilk)" stroke="#3d120c" stroke-width="2.2" stroke-linejoin="round"/>
<g fill="#3d140a"><circle cx="1185.2" cy="626.9" r="1.5"/><circle cx="1185.4" cy="621.6" r="1.5"/><circle cx="1178.9" cy="622.4" r="1.5"/><circle cx="1197.9" cy="626.0" r="1.5"/><circle cx="1197.5" cy="625.1" r="1.5"/><circle cx="1191.9" cy="624.8" r="1.5"/><circle cx="1175.5" cy="627.5" r="1.5"/><circle cx="1192.9" cy="626.7" r="1.5"/><circle cx="1177.5" cy="617.2" r="1.5"/><circle cx="1179.3" cy="620.9" r="1.5"/><circle cx="1191.0" cy="623.4" r="1.5"/><circle cx="1192.9" cy="619.8" r="1.5"/></g>
<path d="M1031.3,652.2 C1031.3,616.1 1079.3,616.1 1079.3,652.2 C1079.3,663.2 1071.1,665.4 1055.3,665.4 C1039.5,665.4 1031.3,663.2 1031.3,652.2 Z" fill="url(#gDark)" stroke="#3d120c" stroke-width="2.2" stroke-linejoin="round"/>
<g fill="#f3d8c0"><circle cx="1058.7" cy="640.7" r="1.4"/><circle cx="1050.2" cy="646.3" r="1.4"/><circle cx="1060.4" cy="644.8" r="1.4"/><circle cx="1049.1" cy="633.6" r="1.4"/><circle cx="1051.5" cy="637.4" r="1.4"/><circle cx="1062.0" cy="639.7" r="1.4"/><circle cx="1050.9" cy="632.4" r="1.4"/><circle cx="1050.5" cy="644.9" r="1.4"/><circle cx="1047.0" cy="639.7" r="1.4"/><circle cx="1058.9" cy="630.3" r="1.4"/><circle cx="1055.7" cy="645.5" r="1.4"/><circle cx="1040.7" cy="636.7" r="1.4"/><circle cx="1054.2" cy="633.0" r="1.4"/><circle cx="1060.7" cy="637.7" r="1.4"/></g>
<path d="M1219.7,651.3 C1219.7,615.2 1267.7,615.2 1267.7,651.3 C1267.7,662.3 1259.5,664.5 1243.7,664.5 C1227.9,664.5 1219.7,662.3 1219.7,651.3 Z" fill="url(#gMilk)" stroke="#3d120c" stroke-width="2.2" stroke-linejoin="round"/>
<g fill="#e8b898"><circle cx="1231.7" cy="641.4" r="1.1"/><circle cx="1250.1" cy="642.7" r="1.1"/><circle cx="1256.3" cy="639.1" r="1.1"/><circle cx="1244.8" cy="629.9" r="1.1"/><circle cx="1250.0" cy="633.4" r="1.1"/><circle cx="1239.6" cy="630.2" r="1.1"/><circle cx="1234.3" cy="634.1" r="1.1"/><circle cx="1251.9" cy="629.3" r="1.1"/><circle cx="1231.0" cy="638.5" r="1.1"/><circle cx="1256.0" cy="640.2" r="1.1"/><circle cx="1234.2" cy="629.5" r="1.1"/><circle cx="1247.4" cy="632.6" r="1.1"/><circle cx="1233.9" cy="642.4" r="1.1"/><circle cx="1254.4" cy="638.1" r="1.1"/><circle cx="1246.4" cy="640.1" r="1.1"/><circle cx="1256.6" cy="640.3" r="1.1"/><circle cx="1249.1" cy="640.7" r="1.1"/><circle cx="1232.3" cy="642.9" r="1.1"/><circle cx="1253.0" cy="640.4" r="1.1"/><circle cx="1229.5" cy="634.4" r="1.1"/><circle cx="1249.9" cy="629.1" r="1.1"/><circle cx="1241.9" cy="643.4" r="1.1"/></g>
<path d="M1065.6,673.2 C1065.6,635.5 1115.6,635.5 1115.6,673.2 C1115.6,684.7 1107.1,687.0 1090.6,687.0 C1074.1,687.0 1065.6,684.7 1065.6,673.2 Z" fill="url(#gMilk)" stroke="#3d120c" stroke-width="2.2" stroke-linejoin="round"/>
<g fill="#f6e0d0"><circle cx="1080.8" cy="663.9" r="1.1"/><circle cx="1096.8" cy="655.4" r="1.1"/><circle cx="1094.2" cy="660.8" r="1.1"/><circle cx="1091.8" cy="663.5" r="1.1"/><circle cx="1083.4" cy="653.7" r="1.1"/><circle cx="1101.3" cy="656.6" r="1.1"/><circle cx="1082.1" cy="662.1" r="1.1"/><circle cx="1103.7" cy="654.0" r="1.1"/><circle cx="1077.7" cy="655.7" r="1.1"/><circle cx="1088.9" cy="654.4" r="1.1"/><circle cx="1102.4" cy="651.2" r="1.1"/><circle cx="1101.0" cy="650.1" r="1.1"/><circle cx="1082.5" cy="660.5" r="1.1"/><circle cx="1101.1" cy="661.4" r="1.1"/><circle cx="1094.6" cy="657.5" r="1.1"/><circle cx="1092.3" cy="660.4" r="1.1"/><circle cx="1088.6" cy="658.4" r="1.1"/><circle cx="1097.0" cy="656.5" r="1.1"/><circle cx="1098.6" cy="660.1" r="1.1"/><circle cx="1105.8" cy="658.0" r="1.1"/><circle cx="1085.8" cy="653.9" r="1.1"/><circle cx="1090.5" cy="662.4" r="1.1"/></g>
<path d="M1182.4,671.2 C1182.4,633.5 1234.4,633.5 1234.4,671.2 C1234.4,682.7 1225.6,685.0 1208.4,685.0 C1191.2,685.0 1182.4,682.7 1182.4,671.2 Z" fill="url(#gDark)" stroke="#3d120c" stroke-width="2.2" stroke-linejoin="round"/>
<polyline points="1219.8,648.6 1220.9,650.5 1220.9,652.4 1220.0,654.3 1218.2,655.9 1215.7,657.2 1212.7,658.0 1209.5,658.3 1206.3,658.1 1203.5,657.4 1201.1,656.3 1199.4,655.0 1198.4,653.4 1198.3,651.9 1199.0,650.4 1200.4,649.1 1202.4,648.0 1204.7,647.4 1207.2,647.1 1209.7,647.3 1211.9,647.8 1213.8,648.6 1215.1,649.6 1215.9,650.8 1216.0,651.9 1215.5,653.1 1214.5,654.1 1213.0,654.8 1211.3,655.3 1209.5,655.5 1207.7,655.4 1206.1,655.1 1204.8,654.5 1203.9,653.8 1203.4,653.0 1203.3,652.1 1203.6,651.4 1204.3,650.7 1205.3,650.3 1206.4,650.0 1207.6,649.9 1208.7,649.9 1209.6,650.2 1210.4,650.5 1210.8,651.0 1211.1,651.4 1211.0,651.9 1210.8,652.3 1210.3,652.5 1209.8,652.7" fill="none" stroke="#e39aa4" stroke-width="1.8"/>
<path d="M1149.50,651.00 A15.76,15.76 0 0 0 1119.50,657.76 C1119.50,669.23 1137.50,685.20 1149.50,696.00 C1161.50,685.20 1179.50,669.23 1179.50,657.76 A15.76,15.76 0 0 0 1149.50,651.00 Z" fill="#a82838" stroke="#3d120c" stroke-width="2.2" stroke-linejoin="round"/>
<path d="M1149.50,645.50 A15.76,15.76 0 0 0 1119.50,652.26 C1119.50,661.33 1137.50,673.30 1149.50,682.50 C1161.50,673.30 1179.50,661.33 1179.50,652.26 A15.76,15.76 0 0 0 1149.50,645.50 Z" fill="url(#gRedH)" stroke="#3d120c" stroke-width="2.2" stroke-linejoin="round"/>
<path d="M1130,652 Q1130,644 1137,643" fill="none" stroke="#f5b8c0" stroke-width="2.5" stroke-linecap="round"/>
<g fill="none" stroke="#7a3a22" stroke-width="2.2" stroke-linecap="round"><path d="M1232,573 Q1251.6,569 1271,573 M1251.6,569 L1251.6,607 M1234,574 L1228,592 M1234,574 L1240,592 M1269,574 L1263,592 M1269,574 L1275,592"/></g>
<path d="M1226,592 L1242,592 Q1240,598 1234,598 Q1228,598 1226,592 Z M1261,592 L1277,592 Q1275,598 1269,598 Q1263,598 1261,592 Z" fill="#c8a070" stroke="#7a3a22" stroke-width="1.8"/>
<path d="M1239,610 Q1240,605 1251.6,605 Q1263,605 1264,610 Z" fill="#c8a070" stroke="#7a3a22" stroke-width="1.8"/>
<circle cx="1251.6" cy="568.5" r="2" fill="#7a3a22"/>
</svg></body></html>
